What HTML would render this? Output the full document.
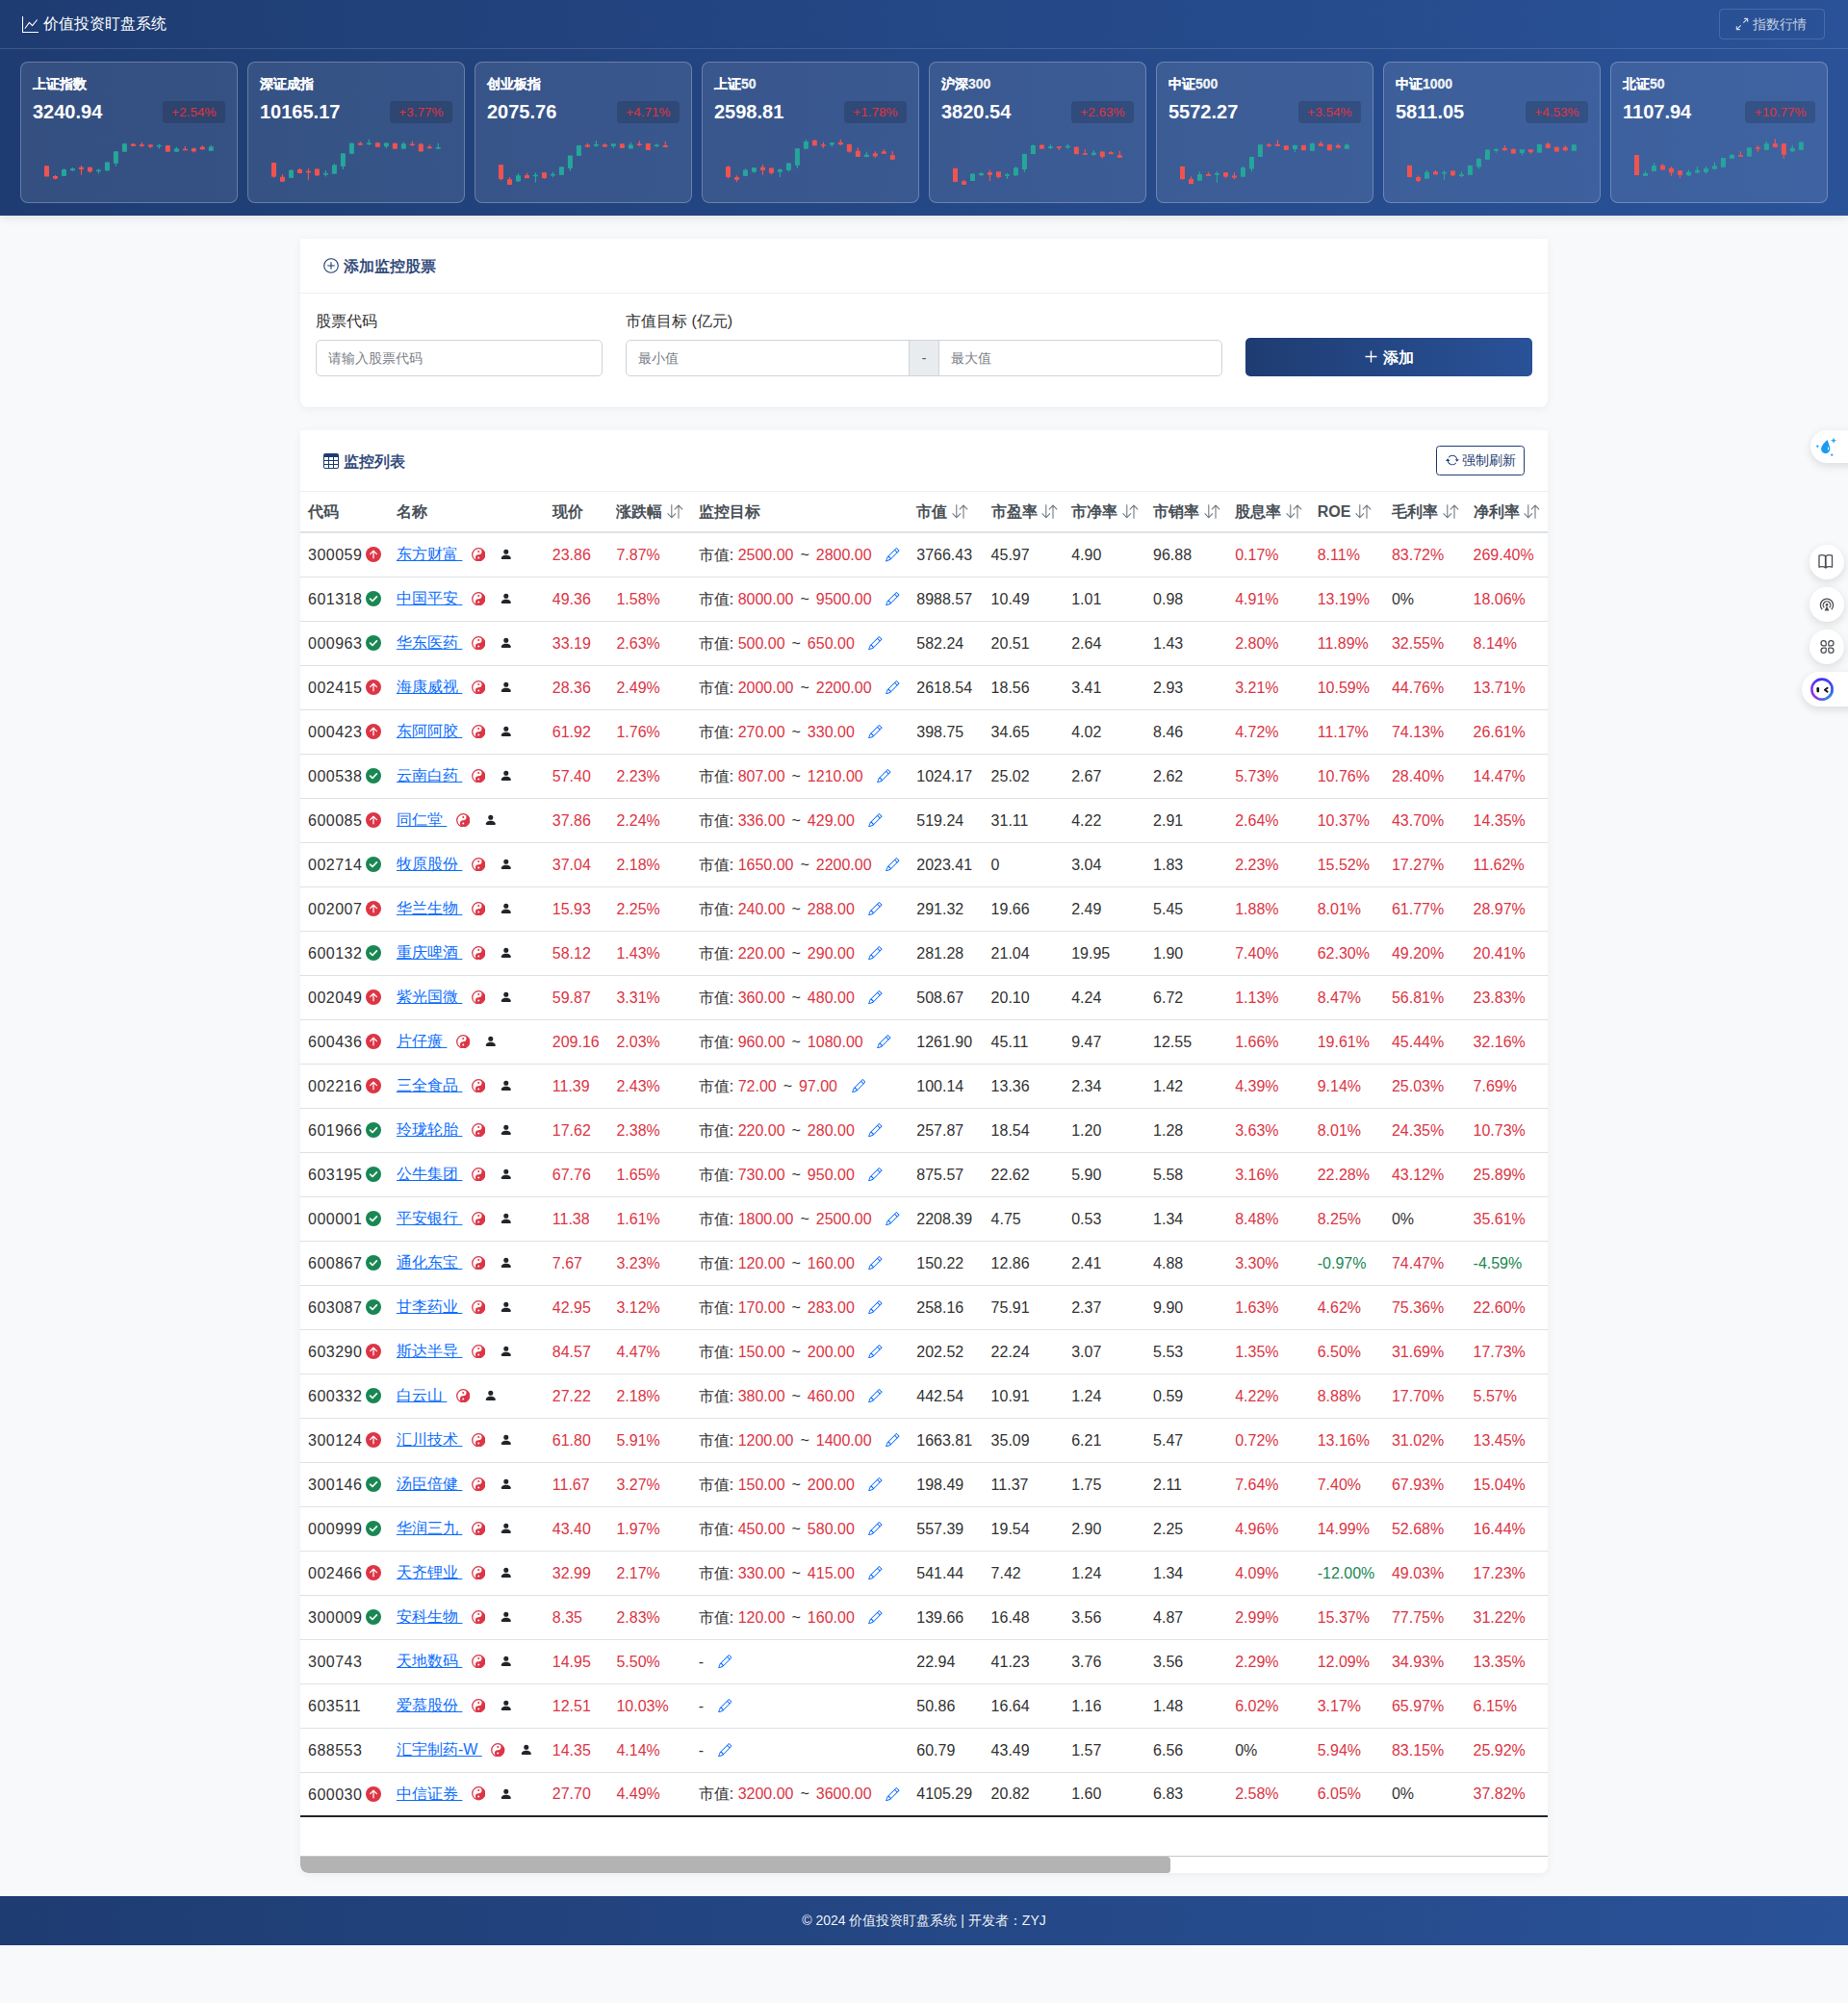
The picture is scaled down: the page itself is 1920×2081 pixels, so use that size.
<!DOCTYPE html>
<html lang="zh"><head><meta charset="utf-8"><title>价值投资盯盘系统</title>
<style>
*{box-sizing:border-box}
html,body{margin:0;padding:0}
body{width:1920px;height:2081px;position:relative;overflow:hidden;background:#f8f9fa;font-family:"Liberation Sans",sans-serif;color:#212529;font-size:16px;line-height:1.5}
.hdr{position:absolute;left:0;top:0;width:1920px;height:224px;background:linear-gradient(90deg,#1e3c72 0%,#2a5298 100%);box-shadow:0 2px 10px rgba(0,0,0,0.1)}
.topbar{position:absolute;left:0;top:0;width:1920px;height:51px;border-bottom:1px solid rgba(255,255,255,0.14)}
.title{position:absolute;left:23px;top:13px;color:#fff;font-size:16px;font-weight:500;line-height:24px;white-space:nowrap}
.title svg{position:absolute;left:0;top:4px;width:17px;height:17px}
.title span{position:absolute;left:22px;top:0}
.ibtn{position:absolute;left:1786px;top:9px;width:110px;height:32px;border:1px solid rgba(255,255,255,0.15);border-radius:4px;color:rgba(255,255,255,0.72);font-size:14px;line-height:30px;white-space:nowrap}
.ibtn svg{position:absolute;left:16px;top:8px;width:14px;height:14px}
.ibtn span{position:absolute;left:34px;top:0}
.cards{position:absolute;left:21px;top:64px;width:1878px;height:147px}
.icard{position:absolute;top:0;width:226px;height:147px;border:1px solid rgba(255,255,255,0.25);background:rgba(255,255,255,0.1);border-radius:8px;overflow:hidden}
.ilab{position:absolute;left:12px;top:11.5px;color:rgba(255,255,255,0.92);font-size:14px;font-weight:bold;-webkit-text-stroke:0.3px rgba(255,255,255,0.92);line-height:20px;white-space:nowrap}
.ival{position:absolute;left:12px;top:37px;color:#fff;font-size:20px;font-weight:bold;line-height:28px;white-space:nowrap}
.ibadge{position:absolute;right:12px;top:40px;height:23px;padding:0 9.5px;background:rgba(0,0,0,0.16);border-radius:4px;color:#e2323f;font-size:13.5px;line-height:23px;white-space:nowrap}
.chart{position:absolute;left:-1px;top:-1px}
.card{position:absolute;left:312px;width:1296px;background:#fff;border-radius:2px 2px 8px 8px;box-shadow:0 2px 10px rgba(0,0,0,0.05)}
.fcard{top:248px;height:175px}
.chd{position:absolute;left:0;top:0;width:100%;border-bottom:1px solid #eceef1}
.ctitle{position:absolute;left:24px;color:#1e3c72;font-size:16px;font-weight:normal;line-height:24px;white-space:nowrap;margin-top:0.5px;-webkit-text-stroke:0.45px #1e3c72}
.ctitle svg{position:absolute;left:0;top:3.3px;width:16px;height:16px}
.ctitle span{position:absolute;left:21px;top:0}
.flab{position:absolute;top:73.7px;font-size:16px;line-height:24px;color:#333;white-space:nowrap}
.inp{position:absolute;top:105px;height:38px;border:1px solid #ced4da;background:#fff;font-size:14px;line-height:36px;color:#7b8188;padding-left:12px;white-space:nowrap}
.addon{position:absolute;top:105px;height:38px;background:#e9ecef;border:1px solid #ced4da;color:#555;font-size:14px;line-height:36px;text-align:center}
.addbtn{position:absolute;left:982px;top:102.5px;width:298px;height:40.5px;border-radius:5px;background:linear-gradient(90deg,#1e3c72,#2a5298);color:#fff;font-size:16px;font-weight:bold;line-height:42px;text-align:center;white-space:nowrap}
.tcard{top:447px;height:1499px;overflow:hidden}
.rbtn{position:absolute;left:1180px;top:16px;width:92px;height:31px;border:1px solid #1e3c72;border-radius:3.5px;color:#1e3c72;font-size:14px;line-height:29px;white-space:nowrap}
.rbtn svg{position:absolute;left:8.5px;top:7px;width:14px;height:14px}
.rbtn span{position:absolute;left:26px;top:0}
.tw{position:absolute;left:0;top:64px;width:1296px;height:1417px;overflow:hidden}
table{border-collapse:collapse;table-layout:fixed;width:1860px}
th,td{padding:0 8px;white-space:nowrap;text-align:left;vertical-align:middle;overflow:hidden}
th{height:42px;font-weight:bold;color:#495057;font-size:16px;border-bottom:2px solid #dee2e6}
td{height:46px;padding-top:1px;border-bottom:1px solid #dee2e6;color:#333;font-size:16px}
tbody tr:last-child td{border-bottom:2px solid #212529}
.r{color:#dc3545}
.g{color:#198754}
.sort{width:17px;height:15px;margin-left:4.7px;vertical-align:middle;position:relative;top:-1px}
.code{display:inline-block;vertical-align:middle;letter-spacing:0.5px}
.st{width:16px;height:16px;vertical-align:middle;margin-left:4px;position:relative;top:-1px}
a.nm{color:#0d6efd;text-decoration:underline;vertical-align:middle;position:relative;top:-1px}
.yy{width:14.5px;height:14.5px;vertical-align:middle;margin-left:9.5px;position:relative;top:-1px}
.per{width:13.6px;height:13.6px;vertical-align:middle;margin-left:14.7px;position:relative;top:-1.2px}
.tgt .r{}
.pen{width:14.5px;height:14.5px;vertical-align:middle;margin-left:14.7px;position:relative;top:-1.25px}
.tl{padding:0 2.5px}
.sb{position:absolute;left:0;top:1481px;width:1296px;height:18px;border-top:1px solid #c9c9c9;background:#fff}
.thumb{position:absolute;left:0;top:0;width:904px;height:17px;background:#b3b3b3;border-radius:0 3.5px 3.5px 8px}
.ftr{position:absolute;left:0;top:1970px;width:1920px;height:50.5px;background:linear-gradient(90deg,#1e3c72,#2a5298);color:rgba(255,255,255,0.95);font-size:14px;font-weight:normal;text-align:center;line-height:50px}
.side{position:absolute;background:#fff;box-shadow:0 3px 10px rgba(0,0,0,0.12)}
</style></head><body>
<div class="hdr">
 <div class="topbar">
  <div class="title"><svg viewBox="0 0 16 16"><path fill="#fff" fill-rule="evenodd" d="M0 0h1v15h15v1H0zm14.817 3.113a.5.5 0 0 1 .07.704l-4.5 5.5a.5.5 0 0 1-.74.037L7.06 6.767l-3.656 5.027a.5.5 0 0 1-.808-.588l4-5.5a.5.5 0 0 1 .758-.06l2.609 2.61 4.15-5.073a.5.5 0 0 1 .704-.07"/></svg><span>价值投资盯盘系统</span></div>
  <div class="ibtn"><svg viewBox="0 0 16 16"><path d="M1.5 14.5L6.5 9.5M1.5 14.5V10.5M1.5 14.5H5.5M14.5 1.5L9.5 6.5M14.5 1.5V5.5M14.5 1.5H10.5" fill="none" stroke="rgba(255,255,255,0.8)" stroke-width="1.3"/></svg><span>指数行情</span></div>
 </div>
 <div class="cards">
<div class="icard" style="left:0px"><div class="ilab">上证指数</div><div class="ival">3240.94</div><div class="ibadge">+2.54%</div><svg class="chart" width="226" height="147" viewBox="0 64 226 147"><rect x="26.90" y="172.27" width="1.2" height="11.14" fill="#ef5350"/><rect x="25.00" y="172.27" width="5" height="11.14" fill="#ef5350"/><rect x="35.89" y="182.05" width="1.2" height="4.43" fill="#ef5350"/><rect x="33.99" y="182.95" width="5" height="2.73" fill="#ef5350"/><rect x="44.88" y="175.23" width="1.2" height="7.84" fill="#26a69a"/><rect x="42.98" y="176.02" width="5" height="6.82" fill="#26a69a"/><rect x="53.87" y="174.09" width="1.2" height="3.64" fill="#26a69a"/><rect x="51.97" y="175.11" width="5" height="2.05" fill="#26a69a"/><rect x="62.86" y="172.05" width="1.2" height="9.66" fill="#ef5350"/><rect x="60.96" y="173.75" width="5" height="2.27" fill="#ef5350"/><rect x="71.85" y="173.52" width="1.2" height="6.14" fill="#ef5350"/><rect x="69.95" y="173.75" width="5" height="4.55" fill="#ef5350"/><rect x="80.84" y="175.45" width="1.2" height="4.89" fill="#26a69a"/><rect x="78.94" y="176.59" width="5" height="1.50" fill="#26a69a"/><rect x="89.83" y="168.07" width="1.2" height="9.66" fill="#26a69a"/><rect x="87.93" y="168.64" width="5" height="8.52" fill="#26a69a"/><rect x="98.82" y="156.93" width="1.2" height="15.68" fill="#26a69a"/><rect x="96.92" y="157.27" width="5" height="12.50" fill="#26a69a"/><rect x="107.81" y="148.75" width="1.2" height="9.09" fill="#26a69a"/><rect x="105.91" y="149.32" width="5" height="8.30" fill="#26a69a"/><rect x="116.80" y="149.09" width="1.2" height="2.84" fill="#ef5350"/><rect x="114.90" y="149.55" width="5" height="2.27" fill="#ef5350"/><rect x="125.79" y="147.84" width="1.2" height="4.89" fill="#ef5350"/><rect x="123.89" y="150.11" width="5" height="1.70" fill="#ef5350"/><rect x="134.78" y="149.89" width="1.2" height="3.98" fill="#ef5350"/><rect x="132.88" y="150.45" width="5" height="2.05" fill="#ef5350"/><rect x="143.77" y="149.66" width="1.2" height="4.77" fill="#26a69a"/><rect x="141.87" y="150.80" width="5" height="1.50" fill="#26a69a"/><rect x="152.76" y="150.80" width="1.2" height="7.05" fill="#ef5350"/><rect x="150.86" y="151.14" width="5" height="6.48" fill="#ef5350"/><rect x="161.75" y="152.73" width="1.2" height="5.11" fill="#26a69a"/><rect x="159.85" y="154.43" width="5" height="3.18" fill="#26a69a"/><rect x="170.74" y="151.93" width="1.2" height="4.20" fill="#ef5350"/><rect x="168.84" y="154.77" width="5" height="1.50" fill="#ef5350"/><rect x="179.73" y="153.30" width="1.2" height="5.11" fill="#ef5350"/><rect x="177.83" y="154.20" width="5" height="3.07" fill="#ef5350"/><rect x="188.72" y="151.02" width="1.2" height="4.55" fill="#ef5350"/><rect x="186.82" y="152.73" width="5" height="2.50" fill="#ef5350"/><rect x="197.71" y="150.80" width="1.2" height="6.14" fill="#26a69a"/><rect x="195.81" y="152.50" width="5" height="4.20" fill="#26a69a"/></svg></div>
<div class="icard" style="left:236px"><div class="ilab">深证成指</div><div class="ival">10165.17</div><div class="ibadge">+3.77%</div><svg class="chart" width="226" height="147" viewBox="0 64 226 147"><rect x="26.90" y="168.98" width="1.2" height="15.57" fill="#ef5350"/><rect x="25.00" y="168.98" width="5" height="14.66" fill="#ef5350"/><rect x="35.89" y="181.14" width="1.2" height="7.61" fill="#ef5350"/><rect x="33.99" y="183.75" width="5" height="5.00" fill="#ef5350"/><rect x="44.88" y="176.02" width="1.2" height="8.75" fill="#26a69a"/><rect x="42.98" y="176.82" width="5" height="7.95" fill="#26a69a"/><rect x="53.87" y="174.89" width="1.2" height="5.11" fill="#ef5350"/><rect x="51.97" y="176.02" width="5" height="3.98" fill="#ef5350"/><rect x="62.86" y="175.11" width="1.2" height="11.70" fill="#ef5350"/><rect x="60.96" y="177.73" width="5" height="1.50" fill="#ef5350"/><rect x="71.85" y="175.45" width="1.2" height="7.61" fill="#ef5350"/><rect x="69.95" y="175.45" width="5" height="6.82" fill="#ef5350"/><rect x="80.84" y="176.93" width="1.2" height="6.48" fill="#26a69a"/><rect x="78.94" y="180.00" width="5" height="1.50" fill="#26a69a"/><rect x="89.83" y="170.00" width="1.2" height="10.57" fill="#26a69a"/><rect x="87.93" y="171.48" width="5" height="9.09" fill="#26a69a"/><rect x="98.82" y="158.98" width="1.2" height="17.05" fill="#26a69a"/><rect x="96.92" y="159.32" width="5" height="13.64" fill="#26a69a"/><rect x="107.81" y="148.41" width="1.2" height="11.36" fill="#26a69a"/><rect x="105.91" y="148.75" width="5" height="11.02" fill="#26a69a"/><rect x="116.80" y="147.05" width="1.2" height="3.64" fill="#ef5350"/><rect x="114.90" y="148.75" width="5" height="1.93" fill="#ef5350"/><rect x="125.79" y="144.77" width="1.2" height="6.25" fill="#26a69a"/><rect x="123.89" y="148.52" width="5" height="1.50" fill="#26a69a"/><rect x="134.78" y="147.84" width="1.2" height="5.11" fill="#ef5350"/><rect x="132.88" y="148.41" width="5" height="4.32" fill="#ef5350"/><rect x="143.77" y="148.52" width="1.2" height="5.57" fill="#26a69a"/><rect x="141.87" y="148.52" width="5" height="3.64" fill="#26a69a"/><rect x="152.76" y="148.75" width="1.2" height="5.91" fill="#ef5350"/><rect x="150.86" y="148.75" width="5" height="5.91" fill="#ef5350"/><rect x="161.75" y="147.61" width="1.2" height="7.05" fill="#26a69a"/><rect x="159.85" y="149.32" width="5" height="5.34" fill="#26a69a"/><rect x="170.74" y="146.82" width="1.2" height="4.77" fill="#ef5350"/><rect x="168.84" y="149.55" width="5" height="1.50" fill="#ef5350"/><rect x="179.73" y="148.75" width="1.2" height="9.09" fill="#ef5350"/><rect x="177.83" y="149.55" width="5" height="7.73" fill="#ef5350"/><rect x="188.72" y="150.45" width="1.2" height="4.32" fill="#ef5350"/><rect x="186.82" y="152.50" width="5" height="1.50" fill="#ef5350"/><rect x="197.71" y="148.75" width="1.2" height="5.91" fill="#26a69a"/><rect x="195.81" y="153.07" width="5" height="1.59" fill="#26a69a"/></svg></div>
<div class="icard" style="left:472px"><div class="ilab">创业板指</div><div class="ival">2075.76</div><div class="ibadge">+4.71%</div><svg class="chart" width="226" height="147" viewBox="0 64 226 147"><rect x="26.90" y="171.14" width="1.2" height="16.25" fill="#ef5350"/><rect x="25.00" y="171.14" width="5" height="14.89" fill="#ef5350"/><rect x="35.89" y="183.98" width="1.2" height="7.95" fill="#ef5350"/><rect x="33.99" y="186.25" width="5" height="5.68" fill="#ef5350"/><rect x="44.88" y="180.00" width="1.2" height="8.52" fill="#26a69a"/><rect x="42.98" y="182.27" width="5" height="6.25" fill="#26a69a"/><rect x="53.87" y="179.77" width="1.2" height="5.34" fill="#ef5350"/><rect x="51.97" y="182.05" width="5" height="3.07" fill="#ef5350"/><rect x="62.86" y="179.09" width="1.2" height="10.57" fill="#26a69a"/><rect x="60.96" y="181.70" width="5" height="1.50" fill="#26a69a"/><rect x="71.85" y="179.09" width="1.2" height="6.82" fill="#ef5350"/><rect x="69.95" y="179.09" width="5" height="6.02" fill="#ef5350"/><rect x="80.84" y="178.64" width="1.2" height="5.34" fill="#26a69a"/><rect x="78.94" y="180.91" width="5" height="1.50" fill="#26a69a"/><rect x="89.83" y="172.95" width="1.2" height="8.98" fill="#26a69a"/><rect x="87.93" y="173.41" width="5" height="8.52" fill="#26a69a"/><rect x="98.82" y="161.59" width="1.2" height="16.14" fill="#26a69a"/><rect x="96.92" y="161.59" width="5" height="13.30" fill="#26a69a"/><rect x="107.81" y="150.80" width="1.2" height="11.02" fill="#26a69a"/><rect x="105.91" y="151.02" width="5" height="10.80" fill="#26a69a"/><rect x="116.80" y="148.75" width="1.2" height="3.98" fill="#ef5350"/><rect x="114.90" y="150.45" width="5" height="2.27" fill="#ef5350"/><rect x="125.79" y="146.14" width="1.2" height="6.59" fill="#26a69a"/><rect x="123.89" y="149.89" width="5" height="1.70" fill="#26a69a"/><rect x="134.78" y="148.75" width="1.2" height="4.20" fill="#ef5350"/><rect x="132.88" y="150.23" width="5" height="2.27" fill="#ef5350"/><rect x="143.77" y="149.32" width="1.2" height="4.55" fill="#26a69a"/><rect x="141.87" y="149.32" width="5" height="2.61" fill="#26a69a"/><rect x="152.76" y="149.32" width="1.2" height="4.55" fill="#ef5350"/><rect x="150.86" y="149.32" width="5" height="4.55" fill="#ef5350"/><rect x="161.75" y="147.95" width="1.2" height="6.48" fill="#26a69a"/><rect x="159.85" y="150.45" width="5" height="3.98" fill="#26a69a"/><rect x="170.74" y="146.25" width="1.2" height="5.57" fill="#ef5350"/><rect x="168.84" y="149.55" width="5" height="1.50" fill="#ef5350"/><rect x="179.73" y="148.75" width="1.2" height="7.16" fill="#ef5350"/><rect x="177.83" y="149.09" width="5" height="6.82" fill="#ef5350"/><rect x="188.72" y="149.32" width="1.2" height="3.41" fill="#26a69a"/><rect x="186.82" y="150.45" width="5" height="1.70" fill="#26a69a"/><rect x="197.71" y="146.82" width="1.2" height="6.14" fill="#ef5350"/><rect x="195.81" y="151.02" width="5" height="1.93" fill="#ef5350"/></svg></div>
<div class="icard" style="left:708px"><div class="ilab">上证50</div><div class="ival">2598.81</div><div class="ibadge">+1.78%</div><svg class="chart" width="226" height="147" viewBox="0 64 226 147"><rect x="26.90" y="172.05" width="1.2" height="13.30" fill="#ef5350"/><rect x="25.00" y="173.18" width="5" height="10.80" fill="#ef5350"/><rect x="35.89" y="182.27" width="1.2" height="6.59" fill="#ef5350"/><rect x="33.99" y="183.98" width="5" height="2.84" fill="#ef5350"/><rect x="44.88" y="175.23" width="1.2" height="7.61" fill="#26a69a"/><rect x="42.98" y="176.59" width="5" height="6.25" fill="#26a69a"/><rect x="53.87" y="174.09" width="1.2" height="5.68" fill="#26a69a"/><rect x="51.97" y="174.09" width="5" height="4.55" fill="#26a69a"/><rect x="62.86" y="170.91" width="1.2" height="10.80" fill="#ef5350"/><rect x="60.96" y="173.75" width="5" height="3.07" fill="#ef5350"/><rect x="71.85" y="174.32" width="1.2" height="7.05" fill="#ef5350"/><rect x="69.95" y="174.55" width="5" height="5.23" fill="#ef5350"/><rect x="80.84" y="175.23" width="1.2" height="8.75" fill="#26a69a"/><rect x="78.94" y="176.02" width="5" height="2.61" fill="#26a69a"/><rect x="89.83" y="168.98" width="1.2" height="9.32" fill="#26a69a"/><rect x="87.93" y="169.55" width="5" height="7.27" fill="#26a69a"/><rect x="98.82" y="154.20" width="1.2" height="20.68" fill="#26a69a"/><rect x="96.92" y="154.20" width="5" height="17.61" fill="#26a69a"/><rect x="107.81" y="145.00" width="1.2" height="9.66" fill="#26a69a"/><rect x="105.91" y="147.05" width="5" height="7.61" fill="#26a69a"/><rect x="116.80" y="145.00" width="1.2" height="6.25" fill="#ef5350"/><rect x="114.90" y="145.91" width="5" height="5.34" fill="#ef5350"/><rect x="125.79" y="147.61" width="1.2" height="6.25" fill="#ef5350"/><rect x="123.89" y="150.23" width="5" height="1.50" fill="#ef5350"/><rect x="134.78" y="148.18" width="1.2" height="4.32" fill="#26a69a"/><rect x="132.88" y="148.18" width="5" height="2.27" fill="#26a69a"/><rect x="143.77" y="144.77" width="1.2" height="6.25" fill="#ef5350"/><rect x="141.87" y="147.84" width="5" height="2.39" fill="#ef5350"/><rect x="152.76" y="149.55" width="1.2" height="9.09" fill="#ef5350"/><rect x="150.86" y="149.89" width="5" height="7.73" fill="#ef5350"/><rect x="161.75" y="153.30" width="1.2" height="9.66" fill="#ef5350"/><rect x="159.85" y="156.70" width="5" height="6.25" fill="#ef5350"/><rect x="170.74" y="157.61" width="1.2" height="5.91" fill="#26a69a"/><rect x="168.84" y="160.68" width="5" height="2.27" fill="#26a69a"/><rect x="179.73" y="157.27" width="1.2" height="6.59" fill="#ef5350"/><rect x="177.83" y="159.32" width="5" height="3.07" fill="#ef5350"/><rect x="188.72" y="155.00" width="1.2" height="4.77" fill="#ef5350"/><rect x="186.82" y="157.27" width="5" height="2.50" fill="#ef5350"/><rect x="197.71" y="157.05" width="1.2" height="8.75" fill="#ef5350"/><rect x="195.81" y="161.25" width="5" height="4.55" fill="#ef5350"/></svg></div>
<div class="icard" style="left:944px"><div class="ilab">沪深300</div><div class="ival">3820.54</div><div class="ibadge">+2.63%</div><svg class="chart" width="226" height="147" viewBox="0 64 226 147"><rect x="26.90" y="174.32" width="1.2" height="15.00" fill="#ef5350"/><rect x="25.00" y="174.89" width="5" height="13.98" fill="#ef5350"/><rect x="35.89" y="186.82" width="1.2" height="5.11" fill="#ef5350"/><rect x="33.99" y="188.30" width="5" height="3.64" fill="#ef5350"/><rect x="44.88" y="180.00" width="1.2" height="7.95" fill="#26a69a"/><rect x="42.98" y="180.57" width="5" height="7.39" fill="#26a69a"/><rect x="53.87" y="178.86" width="1.2" height="3.98" fill="#26a69a"/><rect x="51.97" y="180.00" width="5" height="2.05" fill="#26a69a"/><rect x="62.86" y="176.59" width="1.2" height="11.36" fill="#ef5350"/><rect x="60.96" y="179.09" width="5" height="2.61" fill="#ef5350"/><rect x="71.85" y="178.30" width="1.2" height="7.05" fill="#ef5350"/><rect x="69.95" y="178.30" width="5" height="5.68" fill="#ef5350"/><rect x="80.84" y="179.77" width="1.2" height="6.14" fill="#26a69a"/><rect x="78.94" y="181.14" width="5" height="1.70" fill="#26a69a"/><rect x="89.83" y="173.18" width="1.2" height="9.66" fill="#26a69a"/><rect x="87.93" y="174.32" width="5" height="7.95" fill="#26a69a"/><rect x="98.82" y="159.89" width="1.2" height="18.98" fill="#26a69a"/><rect x="96.92" y="159.89" width="5" height="16.14" fill="#26a69a"/><rect x="107.81" y="150.23" width="1.2" height="9.89" fill="#26a69a"/><rect x="105.91" y="151.02" width="5" height="9.09" fill="#26a69a"/><rect x="116.80" y="150.11" width="1.2" height="4.55" fill="#ef5350"/><rect x="114.90" y="150.68" width="5" height="3.98" fill="#ef5350"/><rect x="125.79" y="149.89" width="1.2" height="5.11" fill="#26a69a"/><rect x="123.89" y="152.16" width="5" height="1.70" fill="#26a69a"/><rect x="134.78" y="152.16" width="1.2" height="3.75" fill="#ef5350"/><rect x="132.88" y="152.16" width="5" height="1.70" fill="#ef5350"/><rect x="143.77" y="149.55" width="1.2" height="5.23" fill="#26a69a"/><rect x="141.87" y="151.59" width="5" height="1.70" fill="#26a69a"/><rect x="152.76" y="152.16" width="1.2" height="7.95" fill="#ef5350"/><rect x="150.86" y="152.73" width="5" height="7.39" fill="#ef5350"/><rect x="161.75" y="155.23" width="1.2" height="5.68" fill="#ef5350"/><rect x="159.85" y="159.32" width="5" height="1.59" fill="#ef5350"/><rect x="170.74" y="156.14" width="1.2" height="5.68" fill="#26a69a"/><rect x="168.84" y="158.64" width="5" height="2.27" fill="#26a69a"/><rect x="179.73" y="157.05" width="1.2" height="7.61" fill="#ef5350"/><rect x="177.83" y="157.61" width="5" height="5.34" fill="#ef5350"/><rect x="188.72" y="157.05" width="1.2" height="3.07" fill="#ef5350"/><rect x="186.82" y="158.18" width="5" height="1.93" fill="#ef5350"/><rect x="197.71" y="156.70" width="1.2" height="7.16" fill="#ef5350"/><rect x="195.81" y="161.25" width="5" height="2.61" fill="#ef5350"/></svg></div>
<div class="icard" style="left:1180px"><div class="ilab">中证500</div><div class="ival">5572.27</div><div class="ibadge">+3.54%</div><svg class="chart" width="226" height="147" viewBox="0 64 226 147"><rect x="26.90" y="172.61" width="1.2" height="14.20" fill="#ef5350"/><rect x="25.00" y="172.95" width="5" height="13.07" fill="#ef5350"/><rect x="35.89" y="183.41" width="1.2" height="7.61" fill="#ef5350"/><rect x="33.99" y="186.02" width="5" height="5.00" fill="#ef5350"/><rect x="44.88" y="178.30" width="1.2" height="9.43" fill="#26a69a"/><rect x="42.98" y="181.14" width="5" height="6.59" fill="#26a69a"/><rect x="53.87" y="178.64" width="1.2" height="4.20" fill="#ef5350"/><rect x="51.97" y="180.91" width="5" height="1.93" fill="#ef5350"/><rect x="62.86" y="177.95" width="1.2" height="11.93" fill="#26a69a"/><rect x="60.96" y="180.00" width="5" height="1.70" fill="#26a69a"/><rect x="71.85" y="179.09" width="1.2" height="5.68" fill="#ef5350"/><rect x="69.95" y="179.09" width="5" height="4.55" fill="#ef5350"/><rect x="80.84" y="179.20" width="1.2" height="7.05" fill="#ef5350"/><rect x="78.94" y="182.50" width="5" height="2.05" fill="#ef5350"/><rect x="89.83" y="172.61" width="1.2" height="11.02" fill="#26a69a"/><rect x="87.93" y="174.09" width="5" height="9.55" fill="#26a69a"/><rect x="98.82" y="162.95" width="1.2" height="15.34" fill="#26a69a"/><rect x="96.92" y="162.95" width="5" height="12.50" fill="#26a69a"/><rect x="107.81" y="150.23" width="1.2" height="12.73" fill="#26a69a"/><rect x="105.91" y="150.23" width="5" height="12.73" fill="#26a69a"/><rect x="116.80" y="148.75" width="1.2" height="4.20" fill="#ef5350"/><rect x="114.90" y="150.23" width="5" height="1.59" fill="#ef5350"/><rect x="125.79" y="145.34" width="1.2" height="6.48" fill="#ef5350"/><rect x="123.89" y="149.89" width="5" height="1.93" fill="#ef5350"/><rect x="134.78" y="151.25" width="1.2" height="4.66" fill="#ef5350"/><rect x="132.88" y="151.25" width="5" height="4.66" fill="#ef5350"/><rect x="143.77" y="150.80" width="1.2" height="7.05" fill="#26a69a"/><rect x="141.87" y="150.80" width="5" height="4.20" fill="#26a69a"/><rect x="152.76" y="150.80" width="1.2" height="5.34" fill="#ef5350"/><rect x="150.86" y="150.80" width="5" height="5.34" fill="#ef5350"/><rect x="161.75" y="148.18" width="1.2" height="8.52" fill="#26a69a"/><rect x="159.85" y="149.09" width="5" height="7.61" fill="#26a69a"/><rect x="170.74" y="146.48" width="1.2" height="5.34" fill="#ef5350"/><rect x="168.84" y="149.09" width="5" height="2.73" fill="#ef5350"/><rect x="179.73" y="149.55" width="1.2" height="7.16" fill="#ef5350"/><rect x="177.83" y="150.23" width="5" height="5.91" fill="#ef5350"/><rect x="188.72" y="149.09" width="1.2" height="4.55" fill="#ef5350"/><rect x="186.82" y="151.02" width="5" height="2.61" fill="#ef5350"/><rect x="197.71" y="149.09" width="1.2" height="5.68" fill="#26a69a"/><rect x="195.81" y="150.45" width="5" height="4.32" fill="#26a69a"/></svg></div>
<div class="icard" style="left:1416px"><div class="ilab">中证1000</div><div class="ival">5811.05</div><div class="ibadge">+4.53%</div><svg class="chart" width="226" height="147" viewBox="0 64 226 147"><rect x="26.90" y="171.82" width="1.2" height="12.50" fill="#ef5350"/><rect x="25.00" y="171.82" width="5" height="12.16" fill="#ef5350"/><rect x="35.89" y="182.27" width="1.2" height="6.82" fill="#ef5350"/><rect x="33.99" y="183.98" width="5" height="4.20" fill="#ef5350"/><rect x="44.88" y="176.59" width="1.2" height="9.09" fill="#26a69a"/><rect x="42.98" y="178.86" width="5" height="6.82" fill="#26a69a"/><rect x="53.87" y="176.82" width="1.2" height="4.55" fill="#ef5350"/><rect x="51.97" y="178.30" width="5" height="3.07" fill="#ef5350"/><rect x="62.86" y="177.16" width="1.2" height="9.66" fill="#26a69a"/><rect x="60.96" y="178.86" width="5" height="1.50" fill="#26a69a"/><rect x="71.85" y="177.16" width="1.2" height="6.02" fill="#ef5350"/><rect x="69.95" y="177.50" width="5" height="4.77" fill="#ef5350"/><rect x="80.84" y="178.30" width="1.2" height="5.91" fill="#26a69a"/><rect x="78.94" y="181.14" width="5" height="1.70" fill="#26a69a"/><rect x="89.83" y="171.25" width="1.2" height="10.45" fill="#26a69a"/><rect x="87.93" y="172.05" width="5" height="9.66" fill="#26a69a"/><rect x="98.82" y="164.09" width="1.2" height="11.36" fill="#26a69a"/><rect x="96.92" y="165.00" width="5" height="8.41" fill="#26a69a"/><rect x="107.81" y="155.23" width="1.2" height="10.57" fill="#26a69a"/><rect x="105.91" y="155.57" width="5" height="10.23" fill="#26a69a"/><rect x="116.80" y="154.09" width="1.2" height="4.55" fill="#26a69a"/><rect x="114.90" y="155.00" width="5" height="1.70" fill="#26a69a"/><rect x="125.79" y="151.02" width="1.2" height="5.68" fill="#ef5350"/><rect x="123.89" y="153.86" width="5" height="2.27" fill="#ef5350"/><rect x="134.78" y="154.09" width="1.2" height="5.45" fill="#ef5350"/><rect x="132.88" y="155.00" width="5" height="4.55" fill="#ef5350"/><rect x="143.77" y="155.23" width="1.2" height="6.02" fill="#26a69a"/><rect x="141.87" y="155.23" width="5" height="3.75" fill="#26a69a"/><rect x="152.76" y="155.23" width="1.2" height="4.55" fill="#ef5350"/><rect x="150.86" y="155.23" width="5" height="2.95" fill="#ef5350"/><rect x="161.75" y="149.89" width="1.2" height="8.75" fill="#26a69a"/><rect x="159.85" y="149.89" width="5" height="8.75" fill="#26a69a"/><rect x="170.74" y="147.95" width="1.2" height="5.91" fill="#ef5350"/><rect x="168.84" y="149.32" width="5" height="4.55" fill="#ef5350"/><rect x="179.73" y="152.39" width="1.2" height="5.11" fill="#ef5350"/><rect x="177.83" y="152.73" width="5" height="4.77" fill="#ef5350"/><rect x="188.72" y="151.02" width="1.2" height="6.25" fill="#ef5350"/><rect x="186.82" y="153.07" width="5" height="3.07" fill="#ef5350"/><rect x="197.71" y="150.23" width="1.2" height="6.48" fill="#26a69a"/><rect x="195.81" y="150.23" width="5" height="6.48" fill="#26a69a"/></svg></div>
<div class="icard" style="left:1652px"><div class="ilab">北证50</div><div class="ival">1107.94</div><div class="ibadge">+10.77%</div><svg class="chart" width="226" height="147" viewBox="0 64 226 147"><rect x="26.90" y="161.02" width="1.2" height="21.02" fill="#ef5350"/><rect x="25.00" y="161.02" width="5" height="21.02" fill="#ef5350"/><rect x="35.89" y="177.73" width="1.2" height="5.11" fill="#26a69a"/><rect x="33.99" y="180.00" width="5" height="2.84" fill="#26a69a"/><rect x="44.88" y="169.20" width="1.2" height="8.75" fill="#26a69a"/><rect x="42.98" y="172.05" width="5" height="5.91" fill="#26a69a"/><rect x="53.87" y="170.00" width="1.2" height="6.82" fill="#ef5350"/><rect x="51.97" y="171.82" width="5" height="4.55" fill="#ef5350"/><rect x="62.86" y="173.18" width="1.2" height="9.66" fill="#ef5350"/><rect x="60.96" y="174.66" width="5" height="4.77" fill="#ef5350"/><rect x="71.85" y="177.16" width="1.2" height="7.73" fill="#ef5350"/><rect x="69.95" y="177.16" width="5" height="4.55" fill="#ef5350"/><rect x="80.84" y="176.36" width="1.2" height="6.82" fill="#26a69a"/><rect x="78.94" y="178.64" width="5" height="3.64" fill="#26a69a"/><rect x="89.83" y="172.95" width="1.2" height="7.05" fill="#26a69a"/><rect x="87.93" y="176.82" width="5" height="2.61" fill="#26a69a"/><rect x="98.82" y="172.95" width="1.2" height="7.61" fill="#26a69a"/><rect x="96.92" y="175.23" width="5" height="3.64" fill="#26a69a"/><rect x="107.81" y="168.30" width="1.2" height="7.39" fill="#26a69a"/><rect x="105.91" y="172.27" width="5" height="3.41" fill="#26a69a"/><rect x="116.80" y="164.09" width="1.2" height="9.66" fill="#26a69a"/><rect x="114.90" y="164.09" width="5" height="9.66" fill="#26a69a"/><rect x="125.79" y="160.11" width="1.2" height="4.55" fill="#26a69a"/><rect x="123.89" y="160.91" width="5" height="3.75" fill="#26a69a"/><rect x="134.78" y="157.27" width="1.2" height="5.45" fill="#ef5350"/><rect x="132.88" y="161.25" width="5" height="1.50" fill="#ef5350"/><rect x="143.77" y="153.30" width="1.2" height="9.32" fill="#26a69a"/><rect x="141.87" y="153.30" width="5" height="9.32" fill="#26a69a"/><rect x="152.76" y="151.02" width="1.2" height="7.16" fill="#ef5350"/><rect x="150.86" y="153.07" width="5" height="1.59" fill="#ef5350"/><rect x="161.75" y="146.82" width="1.2" height="8.98" fill="#26a69a"/><rect x="159.85" y="149.09" width="5" height="6.70" fill="#26a69a"/><rect x="170.74" y="144.20" width="1.2" height="8.75" fill="#ef5350"/><rect x="168.84" y="149.09" width="5" height="3.86" fill="#ef5350"/><rect x="179.73" y="149.09" width="1.2" height="15.91" fill="#ef5350"/><rect x="177.83" y="149.09" width="5" height="11.59" fill="#ef5350"/><rect x="188.72" y="150.80" width="1.2" height="7.05" fill="#26a69a"/><rect x="186.82" y="153.86" width="5" height="3.41" fill="#26a69a"/><rect x="197.71" y="147.05" width="1.2" height="8.86" fill="#26a69a"/><rect x="195.81" y="147.61" width="5" height="8.30" fill="#26a69a"/></svg></div>
 </div>
</div>

<div class="card fcard">
 <div class="chd" style="height:57px"><div class="ctitle" style="top:16px"><svg viewBox="0 0 16 16"><circle cx="8" cy="8" r="7.3" fill="none" stroke="#1e3c72" stroke-width="1.1"/><path d="M8 4.2v7.6M4.2 8h7.6" stroke="#1e3c72" stroke-width="1.1"/></svg><span>添加监控股票</span></div></div>
 <div class="flab" style="left:16px">股票代码</div>
 <div class="inp" style="left:16px;width:298px;border-radius:5px">请输入股票代码</div>
 <div class="flab" style="left:338px">市值目标 (亿元)</div>
 <div class="inp" style="left:338px;width:295px;border-radius:5px 0 0 5px">最小值</div>
 <div class="addon" style="left:632px;width:32px">-</div>
 <div class="inp" style="left:663px;width:295px;border-radius:0 5px 5px 0">最大值</div>
 <div class="addbtn"><svg viewBox="0 0 13 13" style="width:13px;height:13px;position:relative;top:0.5px;margin-right:6.5px;margin-left:1px"><path d="M6.5 0.5v12M0.5 6.5h12" stroke="#fff" stroke-width="1.4"/></svg>添加</div>
</div>

<div class="card tcard">
 <div class="chd" style="height:64px"><div class="ctitle" style="top:20px"><svg viewBox="0 0 16 16"><path fill="#1e3c72" d="M0 2a2 2 0 0 1 2-2h12a2 2 0 0 1 2 2v12a2 2 0 0 1-2 2H2a2 2 0 0 1-2-2zm15 2h-4v3h4zm0 4h-4v3h4zm0 4h-4v3h3a1 1 0 0 0 1-1zm-5 3v-3H6v3zm-5 0v-3H1v2a1 1 0 0 0 1 1zm-4-4h4V8H1zm0-4h4V4H1zm5-3v3h4V4zm4 4H6v3h4z"/></svg><span>监控列表</span></div>
  <div class="rbtn"><svg viewBox="0 0 16 16"><path fill="#1e3c72" d="M11.534 7h3.932a.25.25 0 0 1 .192.41l-1.966 2.36a.25.25 0 0 1-.384 0l-1.966-2.36a.25.25 0 0 1 .192-.41m-11 2h3.932a.25.25 0 0 0 .192-.41L2.692 6.23a.25.25 0 0 0-.384 0L.342 8.59A.25.25 0 0 0 .534 9"/><path fill="#1e3c72" fill-rule="evenodd" d="M8 3c-1.552 0-2.94.707-3.857 1.818a.5.5 0 1 1-.771-.636A6.002 6.002 0 0 1 13.917 7H12.9A5 5 0 0 0 8 3M3.1 9a5.002 5.002 0 0 0 8.757 2.182.5.5 0 1 1 .771.636A6.002 6.002 0 0 1 2.083 9z"/></svg><span>强制刷新</span></div>
 </div>
 <div class="tw">
 <table>
 <colgroup><col style="width:91.9px"><col style="width:161.8px"><col style="width:66.6px"><col style="width:85.3px"><col style="width:226.4px"><col style="width:77.3px"><col style="width:83.6px"><col style="width:84.8px"><col style="width:85.1px"><col style="width:85.5px"><col style="width:77.2px"><col style="width:84.6px"><col style="width:649px"></colgroup>
 <thead><tr><th>代码</th><th>名称</th><th>现价</th><th>涨跌幅<svg class="sort" viewBox="0 0 17 15"><path d="M4.8 0.3V14M0.6 9.4L4.8 13.8 9 9.4M12 14.7V1M7.8 5.4L12 1.1 16.2 5.4" fill="none" stroke="#6c757d" stroke-width="1.05"/></svg></th><th>监控目标</th><th>市值<svg class="sort" viewBox="0 0 17 15"><path d="M4.8 0.3V14M0.6 9.4L4.8 13.8 9 9.4M12 14.7V1M7.8 5.4L12 1.1 16.2 5.4" fill="none" stroke="#6c757d" stroke-width="1.05"/></svg></th><th>市盈率<svg class="sort" viewBox="0 0 17 15"><path d="M4.8 0.3V14M0.6 9.4L4.8 13.8 9 9.4M12 14.7V1M7.8 5.4L12 1.1 16.2 5.4" fill="none" stroke="#6c757d" stroke-width="1.05"/></svg></th><th>市净率<svg class="sort" viewBox="0 0 17 15"><path d="M4.8 0.3V14M0.6 9.4L4.8 13.8 9 9.4M12 14.7V1M7.8 5.4L12 1.1 16.2 5.4" fill="none" stroke="#6c757d" stroke-width="1.05"/></svg></th><th>市销率<svg class="sort" viewBox="0 0 17 15"><path d="M4.8 0.3V14M0.6 9.4L4.8 13.8 9 9.4M12 14.7V1M7.8 5.4L12 1.1 16.2 5.4" fill="none" stroke="#6c757d" stroke-width="1.05"/></svg></th><th>股息率<svg class="sort" viewBox="0 0 17 15"><path d="M4.8 0.3V14M0.6 9.4L4.8 13.8 9 9.4M12 14.7V1M7.8 5.4L12 1.1 16.2 5.4" fill="none" stroke="#6c757d" stroke-width="1.05"/></svg></th><th>ROE<svg class="sort" viewBox="0 0 17 15"><path d="M4.8 0.3V14M0.6 9.4L4.8 13.8 9 9.4M12 14.7V1M7.8 5.4L12 1.1 16.2 5.4" fill="none" stroke="#6c757d" stroke-width="1.05"/></svg></th><th>毛利率<svg class="sort" viewBox="0 0 17 15"><path d="M4.8 0.3V14M0.6 9.4L4.8 13.8 9 9.4M12 14.7V1M7.8 5.4L12 1.1 16.2 5.4" fill="none" stroke="#6c757d" stroke-width="1.05"/></svg></th><th>净利率<svg class="sort" viewBox="0 0 17 15"><path d="M4.8 0.3V14M0.6 9.4L4.8 13.8 9 9.4M12 14.7V1M7.8 5.4L12 1.1 16.2 5.4" fill="none" stroke="#6c757d" stroke-width="1.05"/></svg></th></tr></thead>
 <tbody>
<tr><td><span class="code">300059</span><svg class="st" viewBox="0 0 16 16"><circle cx="8" cy="8" r="8" fill="#dc3545"/><path d="M8 11.8V4.4M4.6 7.6L8 4.2l3.4 3.4" stroke="#fff" stroke-width="1.25" fill="none" stroke-linecap="round" stroke-linejoin="round"/></svg></td><td><a class="nm">东方财富 </a><svg class="yy" viewBox="0 0 16 16"><circle cx="8" cy="8" r="7.2" fill="none" stroke="#dc3545" stroke-width="1.4"/><path d="M8 0.8a7.2 7.2 0 0 1 0 14.4a3.6 3.6 0 0 1 0-7.2a3.6 3.6 0 0 0 0-7.2z" fill="#dc3545"/><circle cx="8" cy="4.4" r="1.1" fill="#dc3545"/><circle cx="8" cy="11.6" r="1.1" fill="#fff"/></svg><svg class="per" viewBox="0 0 16 16"><path fill="#212529" d="M3 14s-1 0-1-1 1-4 6-4 6 3 6 4-1 1-1 1zm5-6a3 3 0 1 0 0-6 3 3 0 0 0 0 6"/></svg></td><td class="r">23.86</td><td class="r">7.87%</td><td class="tgt">市值: <span class="r">2500.00</span> <span class="tl">~</span> <span class="r">2800.00</span><svg class="pen" viewBox="0 0 16 16"><path fill="#0d6efd" d="M12.146.146a.5.5 0 0 1 .708 0l3 3a.5.5 0 0 1 0 .708l-10 10a.5.5 0 0 1-.168.11l-5 2a.5.5 0 0 1-.65-.65l2-5a.5.5 0 0 1 .11-.168zM11.207 2.5 13.5 4.793 14.793 3.5 12.5 1.207zm1.586 3L10.5 3.207 4 9.707V10h.5a.5.5 0 0 1 .5.5v.5h.5a.5.5 0 0 1 .5.5v.5h.293zm-9.761 5.175-.106.106-1.528 3.821 3.821-1.528.106-.106A.5.5 0 0 1 5 12.5V12h-.5a.5.5 0 0 1-.5-.5V11h-.5a.5.5 0 0 1-.468-.325"/></svg></td><td>3766.43</td><td>45.97</td><td>4.90</td><td>96.88</td><td class="r">0.17%</td><td class="r">8.11%</td><td class="r">83.72%</td><td class="r">269.40%</td></tr>
<tr><td><span class="code">601318</span><svg class="st" viewBox="0 0 16 16"><circle cx="8" cy="8" r="8" fill="#198754"/><path d="M4.6 8.2l2.4 2.3 4.4-4.6" stroke="#fff" stroke-width="1.7" fill="none" stroke-linecap="round" stroke-linejoin="round"/></svg></td><td><a class="nm">中国平安 </a><svg class="yy" viewBox="0 0 16 16"><circle cx="8" cy="8" r="7.2" fill="none" stroke="#dc3545" stroke-width="1.4"/><path d="M8 0.8a7.2 7.2 0 0 1 0 14.4a3.6 3.6 0 0 1 0-7.2a3.6 3.6 0 0 0 0-7.2z" fill="#dc3545"/><circle cx="8" cy="4.4" r="1.1" fill="#dc3545"/><circle cx="8" cy="11.6" r="1.1" fill="#fff"/></svg><svg class="per" viewBox="0 0 16 16"><path fill="#212529" d="M3 14s-1 0-1-1 1-4 6-4 6 3 6 4-1 1-1 1zm5-6a3 3 0 1 0 0-6 3 3 0 0 0 0 6"/></svg></td><td class="r">49.36</td><td class="r">1.58%</td><td class="tgt">市值: <span class="r">8000.00</span> <span class="tl">~</span> <span class="r">9500.00</span><svg class="pen" viewBox="0 0 16 16"><path fill="#0d6efd" d="M12.146.146a.5.5 0 0 1 .708 0l3 3a.5.5 0 0 1 0 .708l-10 10a.5.5 0 0 1-.168.11l-5 2a.5.5 0 0 1-.65-.65l2-5a.5.5 0 0 1 .11-.168zM11.207 2.5 13.5 4.793 14.793 3.5 12.5 1.207zm1.586 3L10.5 3.207 4 9.707V10h.5a.5.5 0 0 1 .5.5v.5h.5a.5.5 0 0 1 .5.5v.5h.293zm-9.761 5.175-.106.106-1.528 3.821 3.821-1.528.106-.106A.5.5 0 0 1 5 12.5V12h-.5a.5.5 0 0 1-.5-.5V11h-.5a.5.5 0 0 1-.468-.325"/></svg></td><td>8988.57</td><td>10.49</td><td>1.01</td><td>0.98</td><td class="r">4.91%</td><td class="r">13.19%</td><td class="">0%</td><td class="r">18.06%</td></tr>
<tr><td><span class="code">000963</span><svg class="st" viewBox="0 0 16 16"><circle cx="8" cy="8" r="8" fill="#198754"/><path d="M4.6 8.2l2.4 2.3 4.4-4.6" stroke="#fff" stroke-width="1.7" fill="none" stroke-linecap="round" stroke-linejoin="round"/></svg></td><td><a class="nm">华东医药 </a><svg class="yy" viewBox="0 0 16 16"><circle cx="8" cy="8" r="7.2" fill="none" stroke="#dc3545" stroke-width="1.4"/><path d="M8 0.8a7.2 7.2 0 0 1 0 14.4a3.6 3.6 0 0 1 0-7.2a3.6 3.6 0 0 0 0-7.2z" fill="#dc3545"/><circle cx="8" cy="4.4" r="1.1" fill="#dc3545"/><circle cx="8" cy="11.6" r="1.1" fill="#fff"/></svg><svg class="per" viewBox="0 0 16 16"><path fill="#212529" d="M3 14s-1 0-1-1 1-4 6-4 6 3 6 4-1 1-1 1zm5-6a3 3 0 1 0 0-6 3 3 0 0 0 0 6"/></svg></td><td class="r">33.19</td><td class="r">2.63%</td><td class="tgt">市值: <span class="r">500.00</span> <span class="tl">~</span> <span class="r">650.00</span><svg class="pen" viewBox="0 0 16 16"><path fill="#0d6efd" d="M12.146.146a.5.5 0 0 1 .708 0l3 3a.5.5 0 0 1 0 .708l-10 10a.5.5 0 0 1-.168.11l-5 2a.5.5 0 0 1-.65-.65l2-5a.5.5 0 0 1 .11-.168zM11.207 2.5 13.5 4.793 14.793 3.5 12.5 1.207zm1.586 3L10.5 3.207 4 9.707V10h.5a.5.5 0 0 1 .5.5v.5h.5a.5.5 0 0 1 .5.5v.5h.293zm-9.761 5.175-.106.106-1.528 3.821 3.821-1.528.106-.106A.5.5 0 0 1 5 12.5V12h-.5a.5.5 0 0 1-.5-.5V11h-.5a.5.5 0 0 1-.468-.325"/></svg></td><td>582.24</td><td>20.51</td><td>2.64</td><td>1.43</td><td class="r">2.80%</td><td class="r">11.89%</td><td class="r">32.55%</td><td class="r">8.14%</td></tr>
<tr><td><span class="code">002415</span><svg class="st" viewBox="0 0 16 16"><circle cx="8" cy="8" r="8" fill="#dc3545"/><path d="M8 11.8V4.4M4.6 7.6L8 4.2l3.4 3.4" stroke="#fff" stroke-width="1.25" fill="none" stroke-linecap="round" stroke-linejoin="round"/></svg></td><td><a class="nm">海康威视 </a><svg class="yy" viewBox="0 0 16 16"><circle cx="8" cy="8" r="7.2" fill="none" stroke="#dc3545" stroke-width="1.4"/><path d="M8 0.8a7.2 7.2 0 0 1 0 14.4a3.6 3.6 0 0 1 0-7.2a3.6 3.6 0 0 0 0-7.2z" fill="#dc3545"/><circle cx="8" cy="4.4" r="1.1" fill="#dc3545"/><circle cx="8" cy="11.6" r="1.1" fill="#fff"/></svg><svg class="per" viewBox="0 0 16 16"><path fill="#212529" d="M3 14s-1 0-1-1 1-4 6-4 6 3 6 4-1 1-1 1zm5-6a3 3 0 1 0 0-6 3 3 0 0 0 0 6"/></svg></td><td class="r">28.36</td><td class="r">2.49%</td><td class="tgt">市值: <span class="r">2000.00</span> <span class="tl">~</span> <span class="r">2200.00</span><svg class="pen" viewBox="0 0 16 16"><path fill="#0d6efd" d="M12.146.146a.5.5 0 0 1 .708 0l3 3a.5.5 0 0 1 0 .708l-10 10a.5.5 0 0 1-.168.11l-5 2a.5.5 0 0 1-.65-.65l2-5a.5.5 0 0 1 .11-.168zM11.207 2.5 13.5 4.793 14.793 3.5 12.5 1.207zm1.586 3L10.5 3.207 4 9.707V10h.5a.5.5 0 0 1 .5.5v.5h.5a.5.5 0 0 1 .5.5v.5h.293zm-9.761 5.175-.106.106-1.528 3.821 3.821-1.528.106-.106A.5.5 0 0 1 5 12.5V12h-.5a.5.5 0 0 1-.5-.5V11h-.5a.5.5 0 0 1-.468-.325"/></svg></td><td>2618.54</td><td>18.56</td><td>3.41</td><td>2.93</td><td class="r">3.21%</td><td class="r">10.59%</td><td class="r">44.76%</td><td class="r">13.71%</td></tr>
<tr><td><span class="code">000423</span><svg class="st" viewBox="0 0 16 16"><circle cx="8" cy="8" r="8" fill="#dc3545"/><path d="M8 11.8V4.4M4.6 7.6L8 4.2l3.4 3.4" stroke="#fff" stroke-width="1.25" fill="none" stroke-linecap="round" stroke-linejoin="round"/></svg></td><td><a class="nm">东阿阿胶 </a><svg class="yy" viewBox="0 0 16 16"><circle cx="8" cy="8" r="7.2" fill="none" stroke="#dc3545" stroke-width="1.4"/><path d="M8 0.8a7.2 7.2 0 0 1 0 14.4a3.6 3.6 0 0 1 0-7.2a3.6 3.6 0 0 0 0-7.2z" fill="#dc3545"/><circle cx="8" cy="4.4" r="1.1" fill="#dc3545"/><circle cx="8" cy="11.6" r="1.1" fill="#fff"/></svg><svg class="per" viewBox="0 0 16 16"><path fill="#212529" d="M3 14s-1 0-1-1 1-4 6-4 6 3 6 4-1 1-1 1zm5-6a3 3 0 1 0 0-6 3 3 0 0 0 0 6"/></svg></td><td class="r">61.92</td><td class="r">1.76%</td><td class="tgt">市值: <span class="r">270.00</span> <span class="tl">~</span> <span class="r">330.00</span><svg class="pen" viewBox="0 0 16 16"><path fill="#0d6efd" d="M12.146.146a.5.5 0 0 1 .708 0l3 3a.5.5 0 0 1 0 .708l-10 10a.5.5 0 0 1-.168.11l-5 2a.5.5 0 0 1-.65-.65l2-5a.5.5 0 0 1 .11-.168zM11.207 2.5 13.5 4.793 14.793 3.5 12.5 1.207zm1.586 3L10.5 3.207 4 9.707V10h.5a.5.5 0 0 1 .5.5v.5h.5a.5.5 0 0 1 .5.5v.5h.293zm-9.761 5.175-.106.106-1.528 3.821 3.821-1.528.106-.106A.5.5 0 0 1 5 12.5V12h-.5a.5.5 0 0 1-.5-.5V11h-.5a.5.5 0 0 1-.468-.325"/></svg></td><td>398.75</td><td>34.65</td><td>4.02</td><td>8.46</td><td class="r">4.72%</td><td class="r">11.17%</td><td class="r">74.13%</td><td class="r">26.61%</td></tr>
<tr><td><span class="code">000538</span><svg class="st" viewBox="0 0 16 16"><circle cx="8" cy="8" r="8" fill="#198754"/><path d="M4.6 8.2l2.4 2.3 4.4-4.6" stroke="#fff" stroke-width="1.7" fill="none" stroke-linecap="round" stroke-linejoin="round"/></svg></td><td><a class="nm">云南白药 </a><svg class="yy" viewBox="0 0 16 16"><circle cx="8" cy="8" r="7.2" fill="none" stroke="#dc3545" stroke-width="1.4"/><path d="M8 0.8a7.2 7.2 0 0 1 0 14.4a3.6 3.6 0 0 1 0-7.2a3.6 3.6 0 0 0 0-7.2z" fill="#dc3545"/><circle cx="8" cy="4.4" r="1.1" fill="#dc3545"/><circle cx="8" cy="11.6" r="1.1" fill="#fff"/></svg><svg class="per" viewBox="0 0 16 16"><path fill="#212529" d="M3 14s-1 0-1-1 1-4 6-4 6 3 6 4-1 1-1 1zm5-6a3 3 0 1 0 0-6 3 3 0 0 0 0 6"/></svg></td><td class="r">57.40</td><td class="r">2.23%</td><td class="tgt">市值: <span class="r">807.00</span> <span class="tl">~</span> <span class="r">1210.00</span><svg class="pen" viewBox="0 0 16 16"><path fill="#0d6efd" d="M12.146.146a.5.5 0 0 1 .708 0l3 3a.5.5 0 0 1 0 .708l-10 10a.5.5 0 0 1-.168.11l-5 2a.5.5 0 0 1-.65-.65l2-5a.5.5 0 0 1 .11-.168zM11.207 2.5 13.5 4.793 14.793 3.5 12.5 1.207zm1.586 3L10.5 3.207 4 9.707V10h.5a.5.5 0 0 1 .5.5v.5h.5a.5.5 0 0 1 .5.5v.5h.293zm-9.761 5.175-.106.106-1.528 3.821 3.821-1.528.106-.106A.5.5 0 0 1 5 12.5V12h-.5a.5.5 0 0 1-.5-.5V11h-.5a.5.5 0 0 1-.468-.325"/></svg></td><td>1024.17</td><td>25.02</td><td>2.67</td><td>2.62</td><td class="r">5.73%</td><td class="r">10.76%</td><td class="r">28.40%</td><td class="r">14.47%</td></tr>
<tr><td><span class="code">600085</span><svg class="st" viewBox="0 0 16 16"><circle cx="8" cy="8" r="8" fill="#dc3545"/><path d="M8 11.8V4.4M4.6 7.6L8 4.2l3.4 3.4" stroke="#fff" stroke-width="1.25" fill="none" stroke-linecap="round" stroke-linejoin="round"/></svg></td><td><a class="nm">同仁堂 </a><svg class="yy" viewBox="0 0 16 16"><circle cx="8" cy="8" r="7.2" fill="none" stroke="#dc3545" stroke-width="1.4"/><path d="M8 0.8a7.2 7.2 0 0 1 0 14.4a3.6 3.6 0 0 1 0-7.2a3.6 3.6 0 0 0 0-7.2z" fill="#dc3545"/><circle cx="8" cy="4.4" r="1.1" fill="#dc3545"/><circle cx="8" cy="11.6" r="1.1" fill="#fff"/></svg><svg class="per" viewBox="0 0 16 16"><path fill="#212529" d="M3 14s-1 0-1-1 1-4 6-4 6 3 6 4-1 1-1 1zm5-6a3 3 0 1 0 0-6 3 3 0 0 0 0 6"/></svg></td><td class="r">37.86</td><td class="r">2.24%</td><td class="tgt">市值: <span class="r">336.00</span> <span class="tl">~</span> <span class="r">429.00</span><svg class="pen" viewBox="0 0 16 16"><path fill="#0d6efd" d="M12.146.146a.5.5 0 0 1 .708 0l3 3a.5.5 0 0 1 0 .708l-10 10a.5.5 0 0 1-.168.11l-5 2a.5.5 0 0 1-.65-.65l2-5a.5.5 0 0 1 .11-.168zM11.207 2.5 13.5 4.793 14.793 3.5 12.5 1.207zm1.586 3L10.5 3.207 4 9.707V10h.5a.5.5 0 0 1 .5.5v.5h.5a.5.5 0 0 1 .5.5v.5h.293zm-9.761 5.175-.106.106-1.528 3.821 3.821-1.528.106-.106A.5.5 0 0 1 5 12.5V12h-.5a.5.5 0 0 1-.5-.5V11h-.5a.5.5 0 0 1-.468-.325"/></svg></td><td>519.24</td><td>31.11</td><td>4.22</td><td>2.91</td><td class="r">2.64%</td><td class="r">10.37%</td><td class="r">43.70%</td><td class="r">14.35%</td></tr>
<tr><td><span class="code">002714</span><svg class="st" viewBox="0 0 16 16"><circle cx="8" cy="8" r="8" fill="#198754"/><path d="M4.6 8.2l2.4 2.3 4.4-4.6" stroke="#fff" stroke-width="1.7" fill="none" stroke-linecap="round" stroke-linejoin="round"/></svg></td><td><a class="nm">牧原股份 </a><svg class="yy" viewBox="0 0 16 16"><circle cx="8" cy="8" r="7.2" fill="none" stroke="#dc3545" stroke-width="1.4"/><path d="M8 0.8a7.2 7.2 0 0 1 0 14.4a3.6 3.6 0 0 1 0-7.2a3.6 3.6 0 0 0 0-7.2z" fill="#dc3545"/><circle cx="8" cy="4.4" r="1.1" fill="#dc3545"/><circle cx="8" cy="11.6" r="1.1" fill="#fff"/></svg><svg class="per" viewBox="0 0 16 16"><path fill="#212529" d="M3 14s-1 0-1-1 1-4 6-4 6 3 6 4-1 1-1 1zm5-6a3 3 0 1 0 0-6 3 3 0 0 0 0 6"/></svg></td><td class="r">37.04</td><td class="r">2.18%</td><td class="tgt">市值: <span class="r">1650.00</span> <span class="tl">~</span> <span class="r">2200.00</span><svg class="pen" viewBox="0 0 16 16"><path fill="#0d6efd" d="M12.146.146a.5.5 0 0 1 .708 0l3 3a.5.5 0 0 1 0 .708l-10 10a.5.5 0 0 1-.168.11l-5 2a.5.5 0 0 1-.65-.65l2-5a.5.5 0 0 1 .11-.168zM11.207 2.5 13.5 4.793 14.793 3.5 12.5 1.207zm1.586 3L10.5 3.207 4 9.707V10h.5a.5.5 0 0 1 .5.5v.5h.5a.5.5 0 0 1 .5.5v.5h.293zm-9.761 5.175-.106.106-1.528 3.821 3.821-1.528.106-.106A.5.5 0 0 1 5 12.5V12h-.5a.5.5 0 0 1-.5-.5V11h-.5a.5.5 0 0 1-.468-.325"/></svg></td><td>2023.41</td><td>0</td><td>3.04</td><td>1.83</td><td class="r">2.23%</td><td class="r">15.52%</td><td class="r">17.27%</td><td class="r">11.62%</td></tr>
<tr><td><span class="code">002007</span><svg class="st" viewBox="0 0 16 16"><circle cx="8" cy="8" r="8" fill="#dc3545"/><path d="M8 11.8V4.4M4.6 7.6L8 4.2l3.4 3.4" stroke="#fff" stroke-width="1.25" fill="none" stroke-linecap="round" stroke-linejoin="round"/></svg></td><td><a class="nm">华兰生物 </a><svg class="yy" viewBox="0 0 16 16"><circle cx="8" cy="8" r="7.2" fill="none" stroke="#dc3545" stroke-width="1.4"/><path d="M8 0.8a7.2 7.2 0 0 1 0 14.4a3.6 3.6 0 0 1 0-7.2a3.6 3.6 0 0 0 0-7.2z" fill="#dc3545"/><circle cx="8" cy="4.4" r="1.1" fill="#dc3545"/><circle cx="8" cy="11.6" r="1.1" fill="#fff"/></svg><svg class="per" viewBox="0 0 16 16"><path fill="#212529" d="M3 14s-1 0-1-1 1-4 6-4 6 3 6 4-1 1-1 1zm5-6a3 3 0 1 0 0-6 3 3 0 0 0 0 6"/></svg></td><td class="r">15.93</td><td class="r">2.25%</td><td class="tgt">市值: <span class="r">240.00</span> <span class="tl">~</span> <span class="r">288.00</span><svg class="pen" viewBox="0 0 16 16"><path fill="#0d6efd" d="M12.146.146a.5.5 0 0 1 .708 0l3 3a.5.5 0 0 1 0 .708l-10 10a.5.5 0 0 1-.168.11l-5 2a.5.5 0 0 1-.65-.65l2-5a.5.5 0 0 1 .11-.168zM11.207 2.5 13.5 4.793 14.793 3.5 12.5 1.207zm1.586 3L10.5 3.207 4 9.707V10h.5a.5.5 0 0 1 .5.5v.5h.5a.5.5 0 0 1 .5.5v.5h.293zm-9.761 5.175-.106.106-1.528 3.821 3.821-1.528.106-.106A.5.5 0 0 1 5 12.5V12h-.5a.5.5 0 0 1-.5-.5V11h-.5a.5.5 0 0 1-.468-.325"/></svg></td><td>291.32</td><td>19.66</td><td>2.49</td><td>5.45</td><td class="r">1.88%</td><td class="r">8.01%</td><td class="r">61.77%</td><td class="r">28.97%</td></tr>
<tr><td><span class="code">600132</span><svg class="st" viewBox="0 0 16 16"><circle cx="8" cy="8" r="8" fill="#198754"/><path d="M4.6 8.2l2.4 2.3 4.4-4.6" stroke="#fff" stroke-width="1.7" fill="none" stroke-linecap="round" stroke-linejoin="round"/></svg></td><td><a class="nm">重庆啤酒 </a><svg class="yy" viewBox="0 0 16 16"><circle cx="8" cy="8" r="7.2" fill="none" stroke="#dc3545" stroke-width="1.4"/><path d="M8 0.8a7.2 7.2 0 0 1 0 14.4a3.6 3.6 0 0 1 0-7.2a3.6 3.6 0 0 0 0-7.2z" fill="#dc3545"/><circle cx="8" cy="4.4" r="1.1" fill="#dc3545"/><circle cx="8" cy="11.6" r="1.1" fill="#fff"/></svg><svg class="per" viewBox="0 0 16 16"><path fill="#212529" d="M3 14s-1 0-1-1 1-4 6-4 6 3 6 4-1 1-1 1zm5-6a3 3 0 1 0 0-6 3 3 0 0 0 0 6"/></svg></td><td class="r">58.12</td><td class="r">1.43%</td><td class="tgt">市值: <span class="r">220.00</span> <span class="tl">~</span> <span class="r">290.00</span><svg class="pen" viewBox="0 0 16 16"><path fill="#0d6efd" d="M12.146.146a.5.5 0 0 1 .708 0l3 3a.5.5 0 0 1 0 .708l-10 10a.5.5 0 0 1-.168.11l-5 2a.5.5 0 0 1-.65-.65l2-5a.5.5 0 0 1 .11-.168zM11.207 2.5 13.5 4.793 14.793 3.5 12.5 1.207zm1.586 3L10.5 3.207 4 9.707V10h.5a.5.5 0 0 1 .5.5v.5h.5a.5.5 0 0 1 .5.5v.5h.293zm-9.761 5.175-.106.106-1.528 3.821 3.821-1.528.106-.106A.5.5 0 0 1 5 12.5V12h-.5a.5.5 0 0 1-.5-.5V11h-.5a.5.5 0 0 1-.468-.325"/></svg></td><td>281.28</td><td>21.04</td><td>19.95</td><td>1.90</td><td class="r">7.40%</td><td class="r">62.30%</td><td class="r">49.20%</td><td class="r">20.41%</td></tr>
<tr><td><span class="code">002049</span><svg class="st" viewBox="0 0 16 16"><circle cx="8" cy="8" r="8" fill="#dc3545"/><path d="M8 11.8V4.4M4.6 7.6L8 4.2l3.4 3.4" stroke="#fff" stroke-width="1.25" fill="none" stroke-linecap="round" stroke-linejoin="round"/></svg></td><td><a class="nm">紫光国微 </a><svg class="yy" viewBox="0 0 16 16"><circle cx="8" cy="8" r="7.2" fill="none" stroke="#dc3545" stroke-width="1.4"/><path d="M8 0.8a7.2 7.2 0 0 1 0 14.4a3.6 3.6 0 0 1 0-7.2a3.6 3.6 0 0 0 0-7.2z" fill="#dc3545"/><circle cx="8" cy="4.4" r="1.1" fill="#dc3545"/><circle cx="8" cy="11.6" r="1.1" fill="#fff"/></svg><svg class="per" viewBox="0 0 16 16"><path fill="#212529" d="M3 14s-1 0-1-1 1-4 6-4 6 3 6 4-1 1-1 1zm5-6a3 3 0 1 0 0-6 3 3 0 0 0 0 6"/></svg></td><td class="r">59.87</td><td class="r">3.31%</td><td class="tgt">市值: <span class="r">360.00</span> <span class="tl">~</span> <span class="r">480.00</span><svg class="pen" viewBox="0 0 16 16"><path fill="#0d6efd" d="M12.146.146a.5.5 0 0 1 .708 0l3 3a.5.5 0 0 1 0 .708l-10 10a.5.5 0 0 1-.168.11l-5 2a.5.5 0 0 1-.65-.65l2-5a.5.5 0 0 1 .11-.168zM11.207 2.5 13.5 4.793 14.793 3.5 12.5 1.207zm1.586 3L10.5 3.207 4 9.707V10h.5a.5.5 0 0 1 .5.5v.5h.5a.5.5 0 0 1 .5.5v.5h.293zm-9.761 5.175-.106.106-1.528 3.821 3.821-1.528.106-.106A.5.5 0 0 1 5 12.5V12h-.5a.5.5 0 0 1-.5-.5V11h-.5a.5.5 0 0 1-.468-.325"/></svg></td><td>508.67</td><td>20.10</td><td>4.24</td><td>6.72</td><td class="r">1.13%</td><td class="r">8.47%</td><td class="r">56.81%</td><td class="r">23.83%</td></tr>
<tr><td><span class="code">600436</span><svg class="st" viewBox="0 0 16 16"><circle cx="8" cy="8" r="8" fill="#dc3545"/><path d="M8 11.8V4.4M4.6 7.6L8 4.2l3.4 3.4" stroke="#fff" stroke-width="1.25" fill="none" stroke-linecap="round" stroke-linejoin="round"/></svg></td><td><a class="nm">片仔癀 </a><svg class="yy" viewBox="0 0 16 16"><circle cx="8" cy="8" r="7.2" fill="none" stroke="#dc3545" stroke-width="1.4"/><path d="M8 0.8a7.2 7.2 0 0 1 0 14.4a3.6 3.6 0 0 1 0-7.2a3.6 3.6 0 0 0 0-7.2z" fill="#dc3545"/><circle cx="8" cy="4.4" r="1.1" fill="#dc3545"/><circle cx="8" cy="11.6" r="1.1" fill="#fff"/></svg><svg class="per" viewBox="0 0 16 16"><path fill="#212529" d="M3 14s-1 0-1-1 1-4 6-4 6 3 6 4-1 1-1 1zm5-6a3 3 0 1 0 0-6 3 3 0 0 0 0 6"/></svg></td><td class="r">209.16</td><td class="r">2.03%</td><td class="tgt">市值: <span class="r">960.00</span> <span class="tl">~</span> <span class="r">1080.00</span><svg class="pen" viewBox="0 0 16 16"><path fill="#0d6efd" d="M12.146.146a.5.5 0 0 1 .708 0l3 3a.5.5 0 0 1 0 .708l-10 10a.5.5 0 0 1-.168.11l-5 2a.5.5 0 0 1-.65-.65l2-5a.5.5 0 0 1 .11-.168zM11.207 2.5 13.5 4.793 14.793 3.5 12.5 1.207zm1.586 3L10.5 3.207 4 9.707V10h.5a.5.5 0 0 1 .5.5v.5h.5a.5.5 0 0 1 .5.5v.5h.293zm-9.761 5.175-.106.106-1.528 3.821 3.821-1.528.106-.106A.5.5 0 0 1 5 12.5V12h-.5a.5.5 0 0 1-.5-.5V11h-.5a.5.5 0 0 1-.468-.325"/></svg></td><td>1261.90</td><td>45.11</td><td>9.47</td><td>12.55</td><td class="r">1.66%</td><td class="r">19.61%</td><td class="r">45.44%</td><td class="r">32.16%</td></tr>
<tr><td><span class="code">002216</span><svg class="st" viewBox="0 0 16 16"><circle cx="8" cy="8" r="8" fill="#dc3545"/><path d="M8 11.8V4.4M4.6 7.6L8 4.2l3.4 3.4" stroke="#fff" stroke-width="1.25" fill="none" stroke-linecap="round" stroke-linejoin="round"/></svg></td><td><a class="nm">三全食品 </a><svg class="yy" viewBox="0 0 16 16"><circle cx="8" cy="8" r="7.2" fill="none" stroke="#dc3545" stroke-width="1.4"/><path d="M8 0.8a7.2 7.2 0 0 1 0 14.4a3.6 3.6 0 0 1 0-7.2a3.6 3.6 0 0 0 0-7.2z" fill="#dc3545"/><circle cx="8" cy="4.4" r="1.1" fill="#dc3545"/><circle cx="8" cy="11.6" r="1.1" fill="#fff"/></svg><svg class="per" viewBox="0 0 16 16"><path fill="#212529" d="M3 14s-1 0-1-1 1-4 6-4 6 3 6 4-1 1-1 1zm5-6a3 3 0 1 0 0-6 3 3 0 0 0 0 6"/></svg></td><td class="r">11.39</td><td class="r">2.43%</td><td class="tgt">市值: <span class="r">72.00</span> <span class="tl">~</span> <span class="r">97.00</span><svg class="pen" viewBox="0 0 16 16"><path fill="#0d6efd" d="M12.146.146a.5.5 0 0 1 .708 0l3 3a.5.5 0 0 1 0 .708l-10 10a.5.5 0 0 1-.168.11l-5 2a.5.5 0 0 1-.65-.65l2-5a.5.5 0 0 1 .11-.168zM11.207 2.5 13.5 4.793 14.793 3.5 12.5 1.207zm1.586 3L10.5 3.207 4 9.707V10h.5a.5.5 0 0 1 .5.5v.5h.5a.5.5 0 0 1 .5.5v.5h.293zm-9.761 5.175-.106.106-1.528 3.821 3.821-1.528.106-.106A.5.5 0 0 1 5 12.5V12h-.5a.5.5 0 0 1-.5-.5V11h-.5a.5.5 0 0 1-.468-.325"/></svg></td><td>100.14</td><td>13.36</td><td>2.34</td><td>1.42</td><td class="r">4.39%</td><td class="r">9.14%</td><td class="r">25.03%</td><td class="r">7.69%</td></tr>
<tr><td><span class="code">601966</span><svg class="st" viewBox="0 0 16 16"><circle cx="8" cy="8" r="8" fill="#198754"/><path d="M4.6 8.2l2.4 2.3 4.4-4.6" stroke="#fff" stroke-width="1.7" fill="none" stroke-linecap="round" stroke-linejoin="round"/></svg></td><td><a class="nm">玲珑轮胎 </a><svg class="yy" viewBox="0 0 16 16"><circle cx="8" cy="8" r="7.2" fill="none" stroke="#dc3545" stroke-width="1.4"/><path d="M8 0.8a7.2 7.2 0 0 1 0 14.4a3.6 3.6 0 0 1 0-7.2a3.6 3.6 0 0 0 0-7.2z" fill="#dc3545"/><circle cx="8" cy="4.4" r="1.1" fill="#dc3545"/><circle cx="8" cy="11.6" r="1.1" fill="#fff"/></svg><svg class="per" viewBox="0 0 16 16"><path fill="#212529" d="M3 14s-1 0-1-1 1-4 6-4 6 3 6 4-1 1-1 1zm5-6a3 3 0 1 0 0-6 3 3 0 0 0 0 6"/></svg></td><td class="r">17.62</td><td class="r">2.38%</td><td class="tgt">市值: <span class="r">220.00</span> <span class="tl">~</span> <span class="r">280.00</span><svg class="pen" viewBox="0 0 16 16"><path fill="#0d6efd" d="M12.146.146a.5.5 0 0 1 .708 0l3 3a.5.5 0 0 1 0 .708l-10 10a.5.5 0 0 1-.168.11l-5 2a.5.5 0 0 1-.65-.65l2-5a.5.5 0 0 1 .11-.168zM11.207 2.5 13.5 4.793 14.793 3.5 12.5 1.207zm1.586 3L10.5 3.207 4 9.707V10h.5a.5.5 0 0 1 .5.5v.5h.5a.5.5 0 0 1 .5.5v.5h.293zm-9.761 5.175-.106.106-1.528 3.821 3.821-1.528.106-.106A.5.5 0 0 1 5 12.5V12h-.5a.5.5 0 0 1-.5-.5V11h-.5a.5.5 0 0 1-.468-.325"/></svg></td><td>257.87</td><td>18.54</td><td>1.20</td><td>1.28</td><td class="r">3.63%</td><td class="r">8.01%</td><td class="r">24.35%</td><td class="r">10.73%</td></tr>
<tr><td><span class="code">603195</span><svg class="st" viewBox="0 0 16 16"><circle cx="8" cy="8" r="8" fill="#198754"/><path d="M4.6 8.2l2.4 2.3 4.4-4.6" stroke="#fff" stroke-width="1.7" fill="none" stroke-linecap="round" stroke-linejoin="round"/></svg></td><td><a class="nm">公牛集团 </a><svg class="yy" viewBox="0 0 16 16"><circle cx="8" cy="8" r="7.2" fill="none" stroke="#dc3545" stroke-width="1.4"/><path d="M8 0.8a7.2 7.2 0 0 1 0 14.4a3.6 3.6 0 0 1 0-7.2a3.6 3.6 0 0 0 0-7.2z" fill="#dc3545"/><circle cx="8" cy="4.4" r="1.1" fill="#dc3545"/><circle cx="8" cy="11.6" r="1.1" fill="#fff"/></svg><svg class="per" viewBox="0 0 16 16"><path fill="#212529" d="M3 14s-1 0-1-1 1-4 6-4 6 3 6 4-1 1-1 1zm5-6a3 3 0 1 0 0-6 3 3 0 0 0 0 6"/></svg></td><td class="r">67.76</td><td class="r">1.65%</td><td class="tgt">市值: <span class="r">730.00</span> <span class="tl">~</span> <span class="r">950.00</span><svg class="pen" viewBox="0 0 16 16"><path fill="#0d6efd" d="M12.146.146a.5.5 0 0 1 .708 0l3 3a.5.5 0 0 1 0 .708l-10 10a.5.5 0 0 1-.168.11l-5 2a.5.5 0 0 1-.65-.65l2-5a.5.5 0 0 1 .11-.168zM11.207 2.5 13.5 4.793 14.793 3.5 12.5 1.207zm1.586 3L10.5 3.207 4 9.707V10h.5a.5.5 0 0 1 .5.5v.5h.5a.5.5 0 0 1 .5.5v.5h.293zm-9.761 5.175-.106.106-1.528 3.821 3.821-1.528.106-.106A.5.5 0 0 1 5 12.5V12h-.5a.5.5 0 0 1-.5-.5V11h-.5a.5.5 0 0 1-.468-.325"/></svg></td><td>875.57</td><td>22.62</td><td>5.90</td><td>5.58</td><td class="r">3.16%</td><td class="r">22.28%</td><td class="r">43.12%</td><td class="r">25.89%</td></tr>
<tr><td><span class="code">000001</span><svg class="st" viewBox="0 0 16 16"><circle cx="8" cy="8" r="8" fill="#198754"/><path d="M4.6 8.2l2.4 2.3 4.4-4.6" stroke="#fff" stroke-width="1.7" fill="none" stroke-linecap="round" stroke-linejoin="round"/></svg></td><td><a class="nm">平安银行 </a><svg class="yy" viewBox="0 0 16 16"><circle cx="8" cy="8" r="7.2" fill="none" stroke="#dc3545" stroke-width="1.4"/><path d="M8 0.8a7.2 7.2 0 0 1 0 14.4a3.6 3.6 0 0 1 0-7.2a3.6 3.6 0 0 0 0-7.2z" fill="#dc3545"/><circle cx="8" cy="4.4" r="1.1" fill="#dc3545"/><circle cx="8" cy="11.6" r="1.1" fill="#fff"/></svg><svg class="per" viewBox="0 0 16 16"><path fill="#212529" d="M3 14s-1 0-1-1 1-4 6-4 6 3 6 4-1 1-1 1zm5-6a3 3 0 1 0 0-6 3 3 0 0 0 0 6"/></svg></td><td class="r">11.38</td><td class="r">1.61%</td><td class="tgt">市值: <span class="r">1800.00</span> <span class="tl">~</span> <span class="r">2500.00</span><svg class="pen" viewBox="0 0 16 16"><path fill="#0d6efd" d="M12.146.146a.5.5 0 0 1 .708 0l3 3a.5.5 0 0 1 0 .708l-10 10a.5.5 0 0 1-.168.11l-5 2a.5.5 0 0 1-.65-.65l2-5a.5.5 0 0 1 .11-.168zM11.207 2.5 13.5 4.793 14.793 3.5 12.5 1.207zm1.586 3L10.5 3.207 4 9.707V10h.5a.5.5 0 0 1 .5.5v.5h.5a.5.5 0 0 1 .5.5v.5h.293zm-9.761 5.175-.106.106-1.528 3.821 3.821-1.528.106-.106A.5.5 0 0 1 5 12.5V12h-.5a.5.5 0 0 1-.5-.5V11h-.5a.5.5 0 0 1-.468-.325"/></svg></td><td>2208.39</td><td>4.75</td><td>0.53</td><td>1.34</td><td class="r">8.48%</td><td class="r">8.25%</td><td class="">0%</td><td class="r">35.61%</td></tr>
<tr><td><span class="code">600867</span><svg class="st" viewBox="0 0 16 16"><circle cx="8" cy="8" r="8" fill="#198754"/><path d="M4.6 8.2l2.4 2.3 4.4-4.6" stroke="#fff" stroke-width="1.7" fill="none" stroke-linecap="round" stroke-linejoin="round"/></svg></td><td><a class="nm">通化东宝 </a><svg class="yy" viewBox="0 0 16 16"><circle cx="8" cy="8" r="7.2" fill="none" stroke="#dc3545" stroke-width="1.4"/><path d="M8 0.8a7.2 7.2 0 0 1 0 14.4a3.6 3.6 0 0 1 0-7.2a3.6 3.6 0 0 0 0-7.2z" fill="#dc3545"/><circle cx="8" cy="4.4" r="1.1" fill="#dc3545"/><circle cx="8" cy="11.6" r="1.1" fill="#fff"/></svg><svg class="per" viewBox="0 0 16 16"><path fill="#212529" d="M3 14s-1 0-1-1 1-4 6-4 6 3 6 4-1 1-1 1zm5-6a3 3 0 1 0 0-6 3 3 0 0 0 0 6"/></svg></td><td class="r">7.67</td><td class="r">3.23%</td><td class="tgt">市值: <span class="r">120.00</span> <span class="tl">~</span> <span class="r">160.00</span><svg class="pen" viewBox="0 0 16 16"><path fill="#0d6efd" d="M12.146.146a.5.5 0 0 1 .708 0l3 3a.5.5 0 0 1 0 .708l-10 10a.5.5 0 0 1-.168.11l-5 2a.5.5 0 0 1-.65-.65l2-5a.5.5 0 0 1 .11-.168zM11.207 2.5 13.5 4.793 14.793 3.5 12.5 1.207zm1.586 3L10.5 3.207 4 9.707V10h.5a.5.5 0 0 1 .5.5v.5h.5a.5.5 0 0 1 .5.5v.5h.293zm-9.761 5.175-.106.106-1.528 3.821 3.821-1.528.106-.106A.5.5 0 0 1 5 12.5V12h-.5a.5.5 0 0 1-.5-.5V11h-.5a.5.5 0 0 1-.468-.325"/></svg></td><td>150.22</td><td>12.86</td><td>2.41</td><td>4.88</td><td class="r">3.30%</td><td class="g">-0.97%</td><td class="r">74.47%</td><td class="g">-4.59%</td></tr>
<tr><td><span class="code">603087</span><svg class="st" viewBox="0 0 16 16"><circle cx="8" cy="8" r="8" fill="#198754"/><path d="M4.6 8.2l2.4 2.3 4.4-4.6" stroke="#fff" stroke-width="1.7" fill="none" stroke-linecap="round" stroke-linejoin="round"/></svg></td><td><a class="nm">甘李药业 </a><svg class="yy" viewBox="0 0 16 16"><circle cx="8" cy="8" r="7.2" fill="none" stroke="#dc3545" stroke-width="1.4"/><path d="M8 0.8a7.2 7.2 0 0 1 0 14.4a3.6 3.6 0 0 1 0-7.2a3.6 3.6 0 0 0 0-7.2z" fill="#dc3545"/><circle cx="8" cy="4.4" r="1.1" fill="#dc3545"/><circle cx="8" cy="11.6" r="1.1" fill="#fff"/></svg><svg class="per" viewBox="0 0 16 16"><path fill="#212529" d="M3 14s-1 0-1-1 1-4 6-4 6 3 6 4-1 1-1 1zm5-6a3 3 0 1 0 0-6 3 3 0 0 0 0 6"/></svg></td><td class="r">42.95</td><td class="r">3.12%</td><td class="tgt">市值: <span class="r">170.00</span> <span class="tl">~</span> <span class="r">283.00</span><svg class="pen" viewBox="0 0 16 16"><path fill="#0d6efd" d="M12.146.146a.5.5 0 0 1 .708 0l3 3a.5.5 0 0 1 0 .708l-10 10a.5.5 0 0 1-.168.11l-5 2a.5.5 0 0 1-.65-.65l2-5a.5.5 0 0 1 .11-.168zM11.207 2.5 13.5 4.793 14.793 3.5 12.5 1.207zm1.586 3L10.5 3.207 4 9.707V10h.5a.5.5 0 0 1 .5.5v.5h.5a.5.5 0 0 1 .5.5v.5h.293zm-9.761 5.175-.106.106-1.528 3.821 3.821-1.528.106-.106A.5.5 0 0 1 5 12.5V12h-.5a.5.5 0 0 1-.5-.5V11h-.5a.5.5 0 0 1-.468-.325"/></svg></td><td>258.16</td><td>75.91</td><td>2.37</td><td>9.90</td><td class="r">1.63%</td><td class="r">4.62%</td><td class="r">75.36%</td><td class="r">22.60%</td></tr>
<tr><td><span class="code">603290</span><svg class="st" viewBox="0 0 16 16"><circle cx="8" cy="8" r="8" fill="#dc3545"/><path d="M8 11.8V4.4M4.6 7.6L8 4.2l3.4 3.4" stroke="#fff" stroke-width="1.25" fill="none" stroke-linecap="round" stroke-linejoin="round"/></svg></td><td><a class="nm">斯达半导 </a><svg class="yy" viewBox="0 0 16 16"><circle cx="8" cy="8" r="7.2" fill="none" stroke="#dc3545" stroke-width="1.4"/><path d="M8 0.8a7.2 7.2 0 0 1 0 14.4a3.6 3.6 0 0 1 0-7.2a3.6 3.6 0 0 0 0-7.2z" fill="#dc3545"/><circle cx="8" cy="4.4" r="1.1" fill="#dc3545"/><circle cx="8" cy="11.6" r="1.1" fill="#fff"/></svg><svg class="per" viewBox="0 0 16 16"><path fill="#212529" d="M3 14s-1 0-1-1 1-4 6-4 6 3 6 4-1 1-1 1zm5-6a3 3 0 1 0 0-6 3 3 0 0 0 0 6"/></svg></td><td class="r">84.57</td><td class="r">4.47%</td><td class="tgt">市值: <span class="r">150.00</span> <span class="tl">~</span> <span class="r">200.00</span><svg class="pen" viewBox="0 0 16 16"><path fill="#0d6efd" d="M12.146.146a.5.5 0 0 1 .708 0l3 3a.5.5 0 0 1 0 .708l-10 10a.5.5 0 0 1-.168.11l-5 2a.5.5 0 0 1-.65-.65l2-5a.5.5 0 0 1 .11-.168zM11.207 2.5 13.5 4.793 14.793 3.5 12.5 1.207zm1.586 3L10.5 3.207 4 9.707V10h.5a.5.5 0 0 1 .5.5v.5h.5a.5.5 0 0 1 .5.5v.5h.293zm-9.761 5.175-.106.106-1.528 3.821 3.821-1.528.106-.106A.5.5 0 0 1 5 12.5V12h-.5a.5.5 0 0 1-.5-.5V11h-.5a.5.5 0 0 1-.468-.325"/></svg></td><td>202.52</td><td>22.24</td><td>3.07</td><td>5.53</td><td class="r">1.35%</td><td class="r">6.50%</td><td class="r">31.69%</td><td class="r">17.73%</td></tr>
<tr><td><span class="code">600332</span><svg class="st" viewBox="0 0 16 16"><circle cx="8" cy="8" r="8" fill="#198754"/><path d="M4.6 8.2l2.4 2.3 4.4-4.6" stroke="#fff" stroke-width="1.7" fill="none" stroke-linecap="round" stroke-linejoin="round"/></svg></td><td><a class="nm">白云山 </a><svg class="yy" viewBox="0 0 16 16"><circle cx="8" cy="8" r="7.2" fill="none" stroke="#dc3545" stroke-width="1.4"/><path d="M8 0.8a7.2 7.2 0 0 1 0 14.4a3.6 3.6 0 0 1 0-7.2a3.6 3.6 0 0 0 0-7.2z" fill="#dc3545"/><circle cx="8" cy="4.4" r="1.1" fill="#dc3545"/><circle cx="8" cy="11.6" r="1.1" fill="#fff"/></svg><svg class="per" viewBox="0 0 16 16"><path fill="#212529" d="M3 14s-1 0-1-1 1-4 6-4 6 3 6 4-1 1-1 1zm5-6a3 3 0 1 0 0-6 3 3 0 0 0 0 6"/></svg></td><td class="r">27.22</td><td class="r">2.18%</td><td class="tgt">市值: <span class="r">380.00</span> <span class="tl">~</span> <span class="r">460.00</span><svg class="pen" viewBox="0 0 16 16"><path fill="#0d6efd" d="M12.146.146a.5.5 0 0 1 .708 0l3 3a.5.5 0 0 1 0 .708l-10 10a.5.5 0 0 1-.168.11l-5 2a.5.5 0 0 1-.65-.65l2-5a.5.5 0 0 1 .11-.168zM11.207 2.5 13.5 4.793 14.793 3.5 12.5 1.207zm1.586 3L10.5 3.207 4 9.707V10h.5a.5.5 0 0 1 .5.5v.5h.5a.5.5 0 0 1 .5.5v.5h.293zm-9.761 5.175-.106.106-1.528 3.821 3.821-1.528.106-.106A.5.5 0 0 1 5 12.5V12h-.5a.5.5 0 0 1-.5-.5V11h-.5a.5.5 0 0 1-.468-.325"/></svg></td><td>442.54</td><td>10.91</td><td>1.24</td><td>0.59</td><td class="r">4.22%</td><td class="r">8.88%</td><td class="r">17.70%</td><td class="r">5.57%</td></tr>
<tr><td><span class="code">300124</span><svg class="st" viewBox="0 0 16 16"><circle cx="8" cy="8" r="8" fill="#dc3545"/><path d="M8 11.8V4.4M4.6 7.6L8 4.2l3.4 3.4" stroke="#fff" stroke-width="1.25" fill="none" stroke-linecap="round" stroke-linejoin="round"/></svg></td><td><a class="nm">汇川技术 </a><svg class="yy" viewBox="0 0 16 16"><circle cx="8" cy="8" r="7.2" fill="none" stroke="#dc3545" stroke-width="1.4"/><path d="M8 0.8a7.2 7.2 0 0 1 0 14.4a3.6 3.6 0 0 1 0-7.2a3.6 3.6 0 0 0 0-7.2z" fill="#dc3545"/><circle cx="8" cy="4.4" r="1.1" fill="#dc3545"/><circle cx="8" cy="11.6" r="1.1" fill="#fff"/></svg><svg class="per" viewBox="0 0 16 16"><path fill="#212529" d="M3 14s-1 0-1-1 1-4 6-4 6 3 6 4-1 1-1 1zm5-6a3 3 0 1 0 0-6 3 3 0 0 0 0 6"/></svg></td><td class="r">61.80</td><td class="r">5.91%</td><td class="tgt">市值: <span class="r">1200.00</span> <span class="tl">~</span> <span class="r">1400.00</span><svg class="pen" viewBox="0 0 16 16"><path fill="#0d6efd" d="M12.146.146a.5.5 0 0 1 .708 0l3 3a.5.5 0 0 1 0 .708l-10 10a.5.5 0 0 1-.168.11l-5 2a.5.5 0 0 1-.65-.65l2-5a.5.5 0 0 1 .11-.168zM11.207 2.5 13.5 4.793 14.793 3.5 12.5 1.207zm1.586 3L10.5 3.207 4 9.707V10h.5a.5.5 0 0 1 .5.5v.5h.5a.5.5 0 0 1 .5.5v.5h.293zm-9.761 5.175-.106.106-1.528 3.821 3.821-1.528.106-.106A.5.5 0 0 1 5 12.5V12h-.5a.5.5 0 0 1-.5-.5V11h-.5a.5.5 0 0 1-.468-.325"/></svg></td><td>1663.81</td><td>35.09</td><td>6.21</td><td>5.47</td><td class="r">0.72%</td><td class="r">13.16%</td><td class="r">31.02%</td><td class="r">13.45%</td></tr>
<tr><td><span class="code">300146</span><svg class="st" viewBox="0 0 16 16"><circle cx="8" cy="8" r="8" fill="#198754"/><path d="M4.6 8.2l2.4 2.3 4.4-4.6" stroke="#fff" stroke-width="1.7" fill="none" stroke-linecap="round" stroke-linejoin="round"/></svg></td><td><a class="nm">汤臣倍健 </a><svg class="yy" viewBox="0 0 16 16"><circle cx="8" cy="8" r="7.2" fill="none" stroke="#dc3545" stroke-width="1.4"/><path d="M8 0.8a7.2 7.2 0 0 1 0 14.4a3.6 3.6 0 0 1 0-7.2a3.6 3.6 0 0 0 0-7.2z" fill="#dc3545"/><circle cx="8" cy="4.4" r="1.1" fill="#dc3545"/><circle cx="8" cy="11.6" r="1.1" fill="#fff"/></svg><svg class="per" viewBox="0 0 16 16"><path fill="#212529" d="M3 14s-1 0-1-1 1-4 6-4 6 3 6 4-1 1-1 1zm5-6a3 3 0 1 0 0-6 3 3 0 0 0 0 6"/></svg></td><td class="r">11.67</td><td class="r">3.27%</td><td class="tgt">市值: <span class="r">150.00</span> <span class="tl">~</span> <span class="r">200.00</span><svg class="pen" viewBox="0 0 16 16"><path fill="#0d6efd" d="M12.146.146a.5.5 0 0 1 .708 0l3 3a.5.5 0 0 1 0 .708l-10 10a.5.5 0 0 1-.168.11l-5 2a.5.5 0 0 1-.65-.65l2-5a.5.5 0 0 1 .11-.168zM11.207 2.5 13.5 4.793 14.793 3.5 12.5 1.207zm1.586 3L10.5 3.207 4 9.707V10h.5a.5.5 0 0 1 .5.5v.5h.5a.5.5 0 0 1 .5.5v.5h.293zm-9.761 5.175-.106.106-1.528 3.821 3.821-1.528.106-.106A.5.5 0 0 1 5 12.5V12h-.5a.5.5 0 0 1-.5-.5V11h-.5a.5.5 0 0 1-.468-.325"/></svg></td><td>198.49</td><td>11.37</td><td>1.75</td><td>2.11</td><td class="r">7.64%</td><td class="r">7.40%</td><td class="r">67.93%</td><td class="r">15.04%</td></tr>
<tr><td><span class="code">000999</span><svg class="st" viewBox="0 0 16 16"><circle cx="8" cy="8" r="8" fill="#198754"/><path d="M4.6 8.2l2.4 2.3 4.4-4.6" stroke="#fff" stroke-width="1.7" fill="none" stroke-linecap="round" stroke-linejoin="round"/></svg></td><td><a class="nm">华润三九 </a><svg class="yy" viewBox="0 0 16 16"><circle cx="8" cy="8" r="7.2" fill="none" stroke="#dc3545" stroke-width="1.4"/><path d="M8 0.8a7.2 7.2 0 0 1 0 14.4a3.6 3.6 0 0 1 0-7.2a3.6 3.6 0 0 0 0-7.2z" fill="#dc3545"/><circle cx="8" cy="4.4" r="1.1" fill="#dc3545"/><circle cx="8" cy="11.6" r="1.1" fill="#fff"/></svg><svg class="per" viewBox="0 0 16 16"><path fill="#212529" d="M3 14s-1 0-1-1 1-4 6-4 6 3 6 4-1 1-1 1zm5-6a3 3 0 1 0 0-6 3 3 0 0 0 0 6"/></svg></td><td class="r">43.40</td><td class="r">1.97%</td><td class="tgt">市值: <span class="r">450.00</span> <span class="tl">~</span> <span class="r">580.00</span><svg class="pen" viewBox="0 0 16 16"><path fill="#0d6efd" d="M12.146.146a.5.5 0 0 1 .708 0l3 3a.5.5 0 0 1 0 .708l-10 10a.5.5 0 0 1-.168.11l-5 2a.5.5 0 0 1-.65-.65l2-5a.5.5 0 0 1 .11-.168zM11.207 2.5 13.5 4.793 14.793 3.5 12.5 1.207zm1.586 3L10.5 3.207 4 9.707V10h.5a.5.5 0 0 1 .5.5v.5h.5a.5.5 0 0 1 .5.5v.5h.293zm-9.761 5.175-.106.106-1.528 3.821 3.821-1.528.106-.106A.5.5 0 0 1 5 12.5V12h-.5a.5.5 0 0 1-.5-.5V11h-.5a.5.5 0 0 1-.468-.325"/></svg></td><td>557.39</td><td>19.54</td><td>2.90</td><td>2.25</td><td class="r">4.96%</td><td class="r">14.99%</td><td class="r">52.68%</td><td class="r">16.44%</td></tr>
<tr><td><span class="code">002466</span><svg class="st" viewBox="0 0 16 16"><circle cx="8" cy="8" r="8" fill="#dc3545"/><path d="M8 11.8V4.4M4.6 7.6L8 4.2l3.4 3.4" stroke="#fff" stroke-width="1.25" fill="none" stroke-linecap="round" stroke-linejoin="round"/></svg></td><td><a class="nm">天齐锂业 </a><svg class="yy" viewBox="0 0 16 16"><circle cx="8" cy="8" r="7.2" fill="none" stroke="#dc3545" stroke-width="1.4"/><path d="M8 0.8a7.2 7.2 0 0 1 0 14.4a3.6 3.6 0 0 1 0-7.2a3.6 3.6 0 0 0 0-7.2z" fill="#dc3545"/><circle cx="8" cy="4.4" r="1.1" fill="#dc3545"/><circle cx="8" cy="11.6" r="1.1" fill="#fff"/></svg><svg class="per" viewBox="0 0 16 16"><path fill="#212529" d="M3 14s-1 0-1-1 1-4 6-4 6 3 6 4-1 1-1 1zm5-6a3 3 0 1 0 0-6 3 3 0 0 0 0 6"/></svg></td><td class="r">32.99</td><td class="r">2.17%</td><td class="tgt">市值: <span class="r">330.00</span> <span class="tl">~</span> <span class="r">415.00</span><svg class="pen" viewBox="0 0 16 16"><path fill="#0d6efd" d="M12.146.146a.5.5 0 0 1 .708 0l3 3a.5.5 0 0 1 0 .708l-10 10a.5.5 0 0 1-.168.11l-5 2a.5.5 0 0 1-.65-.65l2-5a.5.5 0 0 1 .11-.168zM11.207 2.5 13.5 4.793 14.793 3.5 12.5 1.207zm1.586 3L10.5 3.207 4 9.707V10h.5a.5.5 0 0 1 .5.5v.5h.5a.5.5 0 0 1 .5.5v.5h.293zm-9.761 5.175-.106.106-1.528 3.821 3.821-1.528.106-.106A.5.5 0 0 1 5 12.5V12h-.5a.5.5 0 0 1-.5-.5V11h-.5a.5.5 0 0 1-.468-.325"/></svg></td><td>541.44</td><td>7.42</td><td>1.24</td><td>1.34</td><td class="r">4.09%</td><td class="g">-12.00%</td><td class="r">49.03%</td><td class="r">17.23%</td></tr>
<tr><td><span class="code">300009</span><svg class="st" viewBox="0 0 16 16"><circle cx="8" cy="8" r="8" fill="#198754"/><path d="M4.6 8.2l2.4 2.3 4.4-4.6" stroke="#fff" stroke-width="1.7" fill="none" stroke-linecap="round" stroke-linejoin="round"/></svg></td><td><a class="nm">安科生物 </a><svg class="yy" viewBox="0 0 16 16"><circle cx="8" cy="8" r="7.2" fill="none" stroke="#dc3545" stroke-width="1.4"/><path d="M8 0.8a7.2 7.2 0 0 1 0 14.4a3.6 3.6 0 0 1 0-7.2a3.6 3.6 0 0 0 0-7.2z" fill="#dc3545"/><circle cx="8" cy="4.4" r="1.1" fill="#dc3545"/><circle cx="8" cy="11.6" r="1.1" fill="#fff"/></svg><svg class="per" viewBox="0 0 16 16"><path fill="#212529" d="M3 14s-1 0-1-1 1-4 6-4 6 3 6 4-1 1-1 1zm5-6a3 3 0 1 0 0-6 3 3 0 0 0 0 6"/></svg></td><td class="r">8.35</td><td class="r">2.83%</td><td class="tgt">市值: <span class="r">120.00</span> <span class="tl">~</span> <span class="r">160.00</span><svg class="pen" viewBox="0 0 16 16"><path fill="#0d6efd" d="M12.146.146a.5.5 0 0 1 .708 0l3 3a.5.5 0 0 1 0 .708l-10 10a.5.5 0 0 1-.168.11l-5 2a.5.5 0 0 1-.65-.65l2-5a.5.5 0 0 1 .11-.168zM11.207 2.5 13.5 4.793 14.793 3.5 12.5 1.207zm1.586 3L10.5 3.207 4 9.707V10h.5a.5.5 0 0 1 .5.5v.5h.5a.5.5 0 0 1 .5.5v.5h.293zm-9.761 5.175-.106.106-1.528 3.821 3.821-1.528.106-.106A.5.5 0 0 1 5 12.5V12h-.5a.5.5 0 0 1-.5-.5V11h-.5a.5.5 0 0 1-.468-.325"/></svg></td><td>139.66</td><td>16.48</td><td>3.56</td><td>4.87</td><td class="r">2.99%</td><td class="r">15.37%</td><td class="r">77.75%</td><td class="r">31.22%</td></tr>
<tr><td><span class="code">300743</span></td><td><a class="nm">天地数码 </a><svg class="yy" viewBox="0 0 16 16"><circle cx="8" cy="8" r="7.2" fill="none" stroke="#dc3545" stroke-width="1.4"/><path d="M8 0.8a7.2 7.2 0 0 1 0 14.4a3.6 3.6 0 0 1 0-7.2a3.6 3.6 0 0 0 0-7.2z" fill="#dc3545"/><circle cx="8" cy="4.4" r="1.1" fill="#dc3545"/><circle cx="8" cy="11.6" r="1.1" fill="#fff"/></svg><svg class="per" viewBox="0 0 16 16"><path fill="#212529" d="M3 14s-1 0-1-1 1-4 6-4 6 3 6 4-1 1-1 1zm5-6a3 3 0 1 0 0-6 3 3 0 0 0 0 6"/></svg></td><td class="r">14.95</td><td class="r">5.50%</td><td class="tgt">-<svg class="pen" viewBox="0 0 16 16"><path fill="#0d6efd" d="M12.146.146a.5.5 0 0 1 .708 0l3 3a.5.5 0 0 1 0 .708l-10 10a.5.5 0 0 1-.168.11l-5 2a.5.5 0 0 1-.65-.65l2-5a.5.5 0 0 1 .11-.168zM11.207 2.5 13.5 4.793 14.793 3.5 12.5 1.207zm1.586 3L10.5 3.207 4 9.707V10h.5a.5.5 0 0 1 .5.5v.5h.5a.5.5 0 0 1 .5.5v.5h.293zm-9.761 5.175-.106.106-1.528 3.821 3.821-1.528.106-.106A.5.5 0 0 1 5 12.5V12h-.5a.5.5 0 0 1-.5-.5V11h-.5a.5.5 0 0 1-.468-.325"/></svg></td><td>22.94</td><td>41.23</td><td>3.76</td><td>3.56</td><td class="r">2.29%</td><td class="r">12.09%</td><td class="r">34.93%</td><td class="r">13.35%</td></tr>
<tr><td><span class="code">603511</span></td><td><a class="nm">爱慕股份 </a><svg class="yy" viewBox="0 0 16 16"><circle cx="8" cy="8" r="7.2" fill="none" stroke="#dc3545" stroke-width="1.4"/><path d="M8 0.8a7.2 7.2 0 0 1 0 14.4a3.6 3.6 0 0 1 0-7.2a3.6 3.6 0 0 0 0-7.2z" fill="#dc3545"/><circle cx="8" cy="4.4" r="1.1" fill="#dc3545"/><circle cx="8" cy="11.6" r="1.1" fill="#fff"/></svg><svg class="per" viewBox="0 0 16 16"><path fill="#212529" d="M3 14s-1 0-1-1 1-4 6-4 6 3 6 4-1 1-1 1zm5-6a3 3 0 1 0 0-6 3 3 0 0 0 0 6"/></svg></td><td class="r">12.51</td><td class="r">10.03%</td><td class="tgt">-<svg class="pen" viewBox="0 0 16 16"><path fill="#0d6efd" d="M12.146.146a.5.5 0 0 1 .708 0l3 3a.5.5 0 0 1 0 .708l-10 10a.5.5 0 0 1-.168.11l-5 2a.5.5 0 0 1-.65-.65l2-5a.5.5 0 0 1 .11-.168zM11.207 2.5 13.5 4.793 14.793 3.5 12.5 1.207zm1.586 3L10.5 3.207 4 9.707V10h.5a.5.5 0 0 1 .5.5v.5h.5a.5.5 0 0 1 .5.5v.5h.293zm-9.761 5.175-.106.106-1.528 3.821 3.821-1.528.106-.106A.5.5 0 0 1 5 12.5V12h-.5a.5.5 0 0 1-.5-.5V11h-.5a.5.5 0 0 1-.468-.325"/></svg></td><td>50.86</td><td>16.64</td><td>1.16</td><td>1.48</td><td class="r">6.02%</td><td class="r">3.17%</td><td class="r">65.97%</td><td class="r">6.15%</td></tr>
<tr><td><span class="code">688553</span></td><td><a class="nm">汇宇制药-W </a><svg class="yy" viewBox="0 0 16 16"><circle cx="8" cy="8" r="7.2" fill="none" stroke="#dc3545" stroke-width="1.4"/><path d="M8 0.8a7.2 7.2 0 0 1 0 14.4a3.6 3.6 0 0 1 0-7.2a3.6 3.6 0 0 0 0-7.2z" fill="#dc3545"/><circle cx="8" cy="4.4" r="1.1" fill="#dc3545"/><circle cx="8" cy="11.6" r="1.1" fill="#fff"/></svg><svg class="per" viewBox="0 0 16 16"><path fill="#212529" d="M3 14s-1 0-1-1 1-4 6-4 6 3 6 4-1 1-1 1zm5-6a3 3 0 1 0 0-6 3 3 0 0 0 0 6"/></svg></td><td class="r">14.35</td><td class="r">4.14%</td><td class="tgt">-<svg class="pen" viewBox="0 0 16 16"><path fill="#0d6efd" d="M12.146.146a.5.5 0 0 1 .708 0l3 3a.5.5 0 0 1 0 .708l-10 10a.5.5 0 0 1-.168.11l-5 2a.5.5 0 0 1-.65-.65l2-5a.5.5 0 0 1 .11-.168zM11.207 2.5 13.5 4.793 14.793 3.5 12.5 1.207zm1.586 3L10.5 3.207 4 9.707V10h.5a.5.5 0 0 1 .5.5v.5h.5a.5.5 0 0 1 .5.5v.5h.293zm-9.761 5.175-.106.106-1.528 3.821 3.821-1.528.106-.106A.5.5 0 0 1 5 12.5V12h-.5a.5.5 0 0 1-.5-.5V11h-.5a.5.5 0 0 1-.468-.325"/></svg></td><td>60.79</td><td>43.49</td><td>1.57</td><td>6.56</td><td class="">0%</td><td class="r">5.94%</td><td class="r">83.15%</td><td class="r">25.92%</td></tr>
<tr><td><span class="code">600030</span><svg class="st" viewBox="0 0 16 16"><circle cx="8" cy="8" r="8" fill="#dc3545"/><path d="M8 11.8V4.4M4.6 7.6L8 4.2l3.4 3.4" stroke="#fff" stroke-width="1.25" fill="none" stroke-linecap="round" stroke-linejoin="round"/></svg></td><td><a class="nm">中信证券 </a><svg class="yy" viewBox="0 0 16 16"><circle cx="8" cy="8" r="7.2" fill="none" stroke="#dc3545" stroke-width="1.4"/><path d="M8 0.8a7.2 7.2 0 0 1 0 14.4a3.6 3.6 0 0 1 0-7.2a3.6 3.6 0 0 0 0-7.2z" fill="#dc3545"/><circle cx="8" cy="4.4" r="1.1" fill="#dc3545"/><circle cx="8" cy="11.6" r="1.1" fill="#fff"/></svg><svg class="per" viewBox="0 0 16 16"><path fill="#212529" d="M3 14s-1 0-1-1 1-4 6-4 6 3 6 4-1 1-1 1zm5-6a3 3 0 1 0 0-6 3 3 0 0 0 0 6"/></svg></td><td class="r">27.70</td><td class="r">4.49%</td><td class="tgt">市值: <span class="r">3200.00</span> <span class="tl">~</span> <span class="r">3600.00</span><svg class="pen" viewBox="0 0 16 16"><path fill="#0d6efd" d="M12.146.146a.5.5 0 0 1 .708 0l3 3a.5.5 0 0 1 0 .708l-10 10a.5.5 0 0 1-.168.11l-5 2a.5.5 0 0 1-.65-.65l2-5a.5.5 0 0 1 .11-.168zM11.207 2.5 13.5 4.793 14.793 3.5 12.5 1.207zm1.586 3L10.5 3.207 4 9.707V10h.5a.5.5 0 0 1 .5.5v.5h.5a.5.5 0 0 1 .5.5v.5h.293zm-9.761 5.175-.106.106-1.528 3.821 3.821-1.528.106-.106A.5.5 0 0 1 5 12.5V12h-.5a.5.5 0 0 1-.5-.5V11h-.5a.5.5 0 0 1-.468-.325"/></svg></td><td>4105.29</td><td>20.82</td><td>1.60</td><td>6.83</td><td class="r">2.58%</td><td class="r">6.05%</td><td class="">0%</td><td class="r">37.82%</td></tr>
 </tbody>
 </table>
 </div>
 <div class="sb"><div class="thumb"></div></div>
</div>

<div class="ftr">© 2024 价值投资盯盘系统 | 开发者：ZYJ</div>

<div class="side" style="left:1881px;top:447px;width:60px;height:34px;border-radius:17px"><svg style="position:absolute;left:6px;top:5px" width="24" height="24" viewBox="0 0 24 24"><path d="M11.6 4.9C9.5 7 5.1 10.5 5.1 14.6a4.6 4.6 0 0 0 9.2 0c0-2.4-1.4-5.6-2.7-9.7z" fill="#1a9bf0"/><path d="M12.2 12.6c0.5 0.9 0.5 2 0 2.8" stroke="#fff" stroke-width="1" fill="none"/><path d="M18 2.7l0.9 2.1 2.1 0.9-2.1 0.9-0.9 2.1-0.9-2.1-2.1-0.9 2.1-0.9z" fill="#2aa7f5"/><path d="M1.2 9.7l0.6 1.4 1.4 0.6-1.4 0.6-0.6 1.4-0.6-1.4-1.4-0.6 1.4-0.6z" fill="#2aa7f5"/><circle cx="16.2" cy="20.6" r="1.2" fill="#2aa7f5"/></svg></div>
<div class="side" style="left:1880px;top:566px;width:36px;height:36px;border-radius:18px"><svg style="position:absolute;left:9px;top:10px" width="16" height="15" viewBox="0 0 16 15"><path d="M1 1.2C3 0.5 5.6 0.6 7.5 1.6V13.6C5.6 12.6 3 12.5 1 13.2z M14.5 1.2C12.5 0.5 9.9 0.6 8 1.6V13.6C9.9 12.6 12.5 12.5 14.5 13.2z" fill="none" stroke="#4a4d55" stroke-width="1.3" stroke-linejoin="round"/><path d="M7.75 13.2v1.4" stroke="#4a4d55" stroke-width="1.3"/></svg></div>
<div class="side" style="left:1880px;top:610px;width:36px;height:36px;border-radius:18px"><svg style="position:absolute;left:10px;top:10px" width="16" height="16" viewBox="0 0 16 16"><path d="M3.2 13.2A6.6 6.6 0 1 1 12.8 13.2" fill="none" stroke="#4a4d55" stroke-width="1.3"/><path d="M5.3 11.3A3.8 3.8 0 1 1 10.7 11.3" fill="none" stroke="#4a4d55" stroke-width="1.3"/><circle cx="8" cy="8.4" r="1.4" fill="#4a4d55"/><path d="M8 9.6L5.6 14.4h4.8z" fill="#4a4d55"/></svg></div>
<div class="side" style="left:1880px;top:654px;width:36px;height:36px;border-radius:18px"><svg style="position:absolute;left:10.5px;top:10px" width="15" height="16" viewBox="0 0 15 16"><path d="M5.8 6.8H3.6A2.6 2.6 0 1 1 6.2 4.2V6.4z M9.2 6.8h2.2A2.6 2.6 0 1 0 8.8 4.2V6.4z M5.8 9.2H3.6A2.6 2.6 0 1 0 6.2 11.8V9.6z M9.2 9.2h2.2A2.6 2.6 0 1 1 8.8 11.8V9.6z" fill="none" stroke="#4a4d55" stroke-width="1.25" stroke-linejoin="round"/></svg></div>
<div class="side" style="left:1872px;top:698px;width:70px;height:36px;border-radius:18px"><svg style="position:absolute;left:8px;top:5px" width="26" height="26" viewBox="0 0 26 26"><defs><linearGradient id="rg" x1="0" y1="1" x2="1" y2="0"><stop offset="0" stop-color="#b02ee0"/><stop offset="0.45" stop-color="#5b3cf0"/><stop offset="0.7" stop-color="#3a2ff0"/><stop offset="1" stop-color="#4a55f5"/></linearGradient><linearGradient id="rg2" x1="0" y1="0" x2="1" y2="1"><stop offset="0.5" stop-color="#4a50f0" stop-opacity="0"/><stop offset="1" stop-color="#19c0e0"/></linearGradient></defs><circle cx="13" cy="13.2" r="10.6" fill="none" stroke="url(#rg)" stroke-width="2.6"/><circle cx="13" cy="13.2" r="10.6" fill="none" stroke="url(#rg2)" stroke-width="2.6"/><path d="M8.75 12.3v2.8" stroke="#111" stroke-width="2.6" stroke-linecap="round"/><path d="M18.6 11.8L15.9 13.8 18.6 15.8" fill="none" stroke="#111" stroke-width="1.9" stroke-linecap="round" stroke-linejoin="round"/></svg></div>
</body></html>
